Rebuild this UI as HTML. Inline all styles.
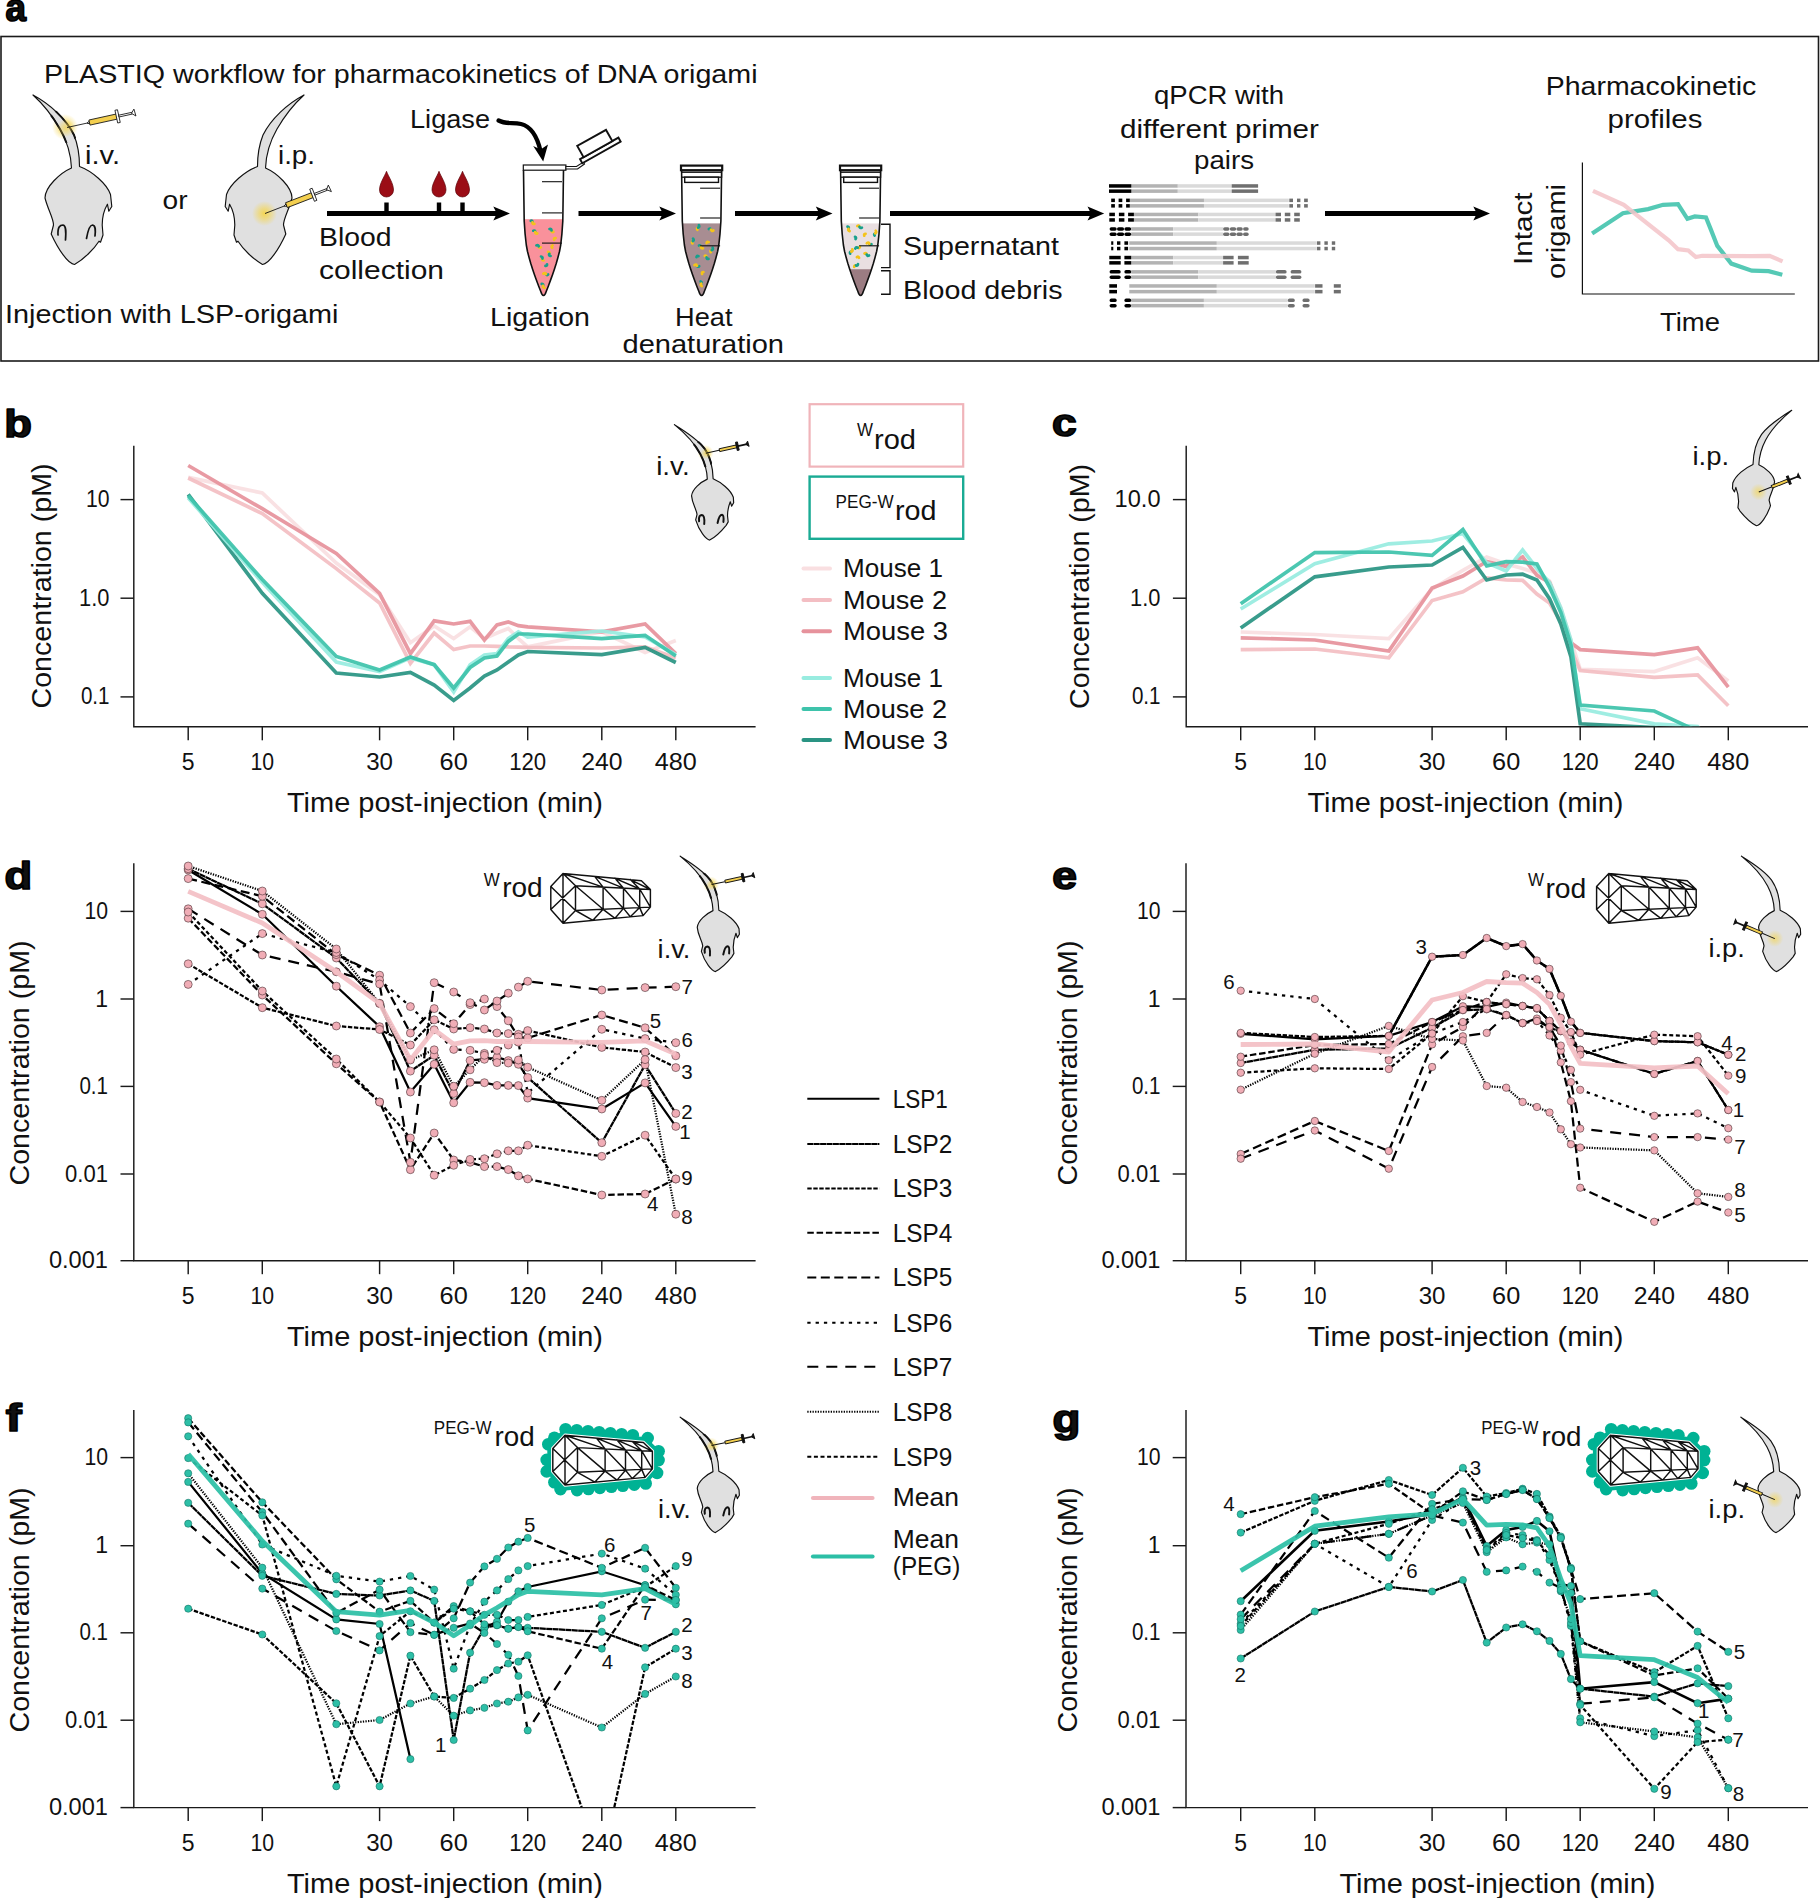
<!DOCTYPE html>
<html><head><meta charset="utf-8"><title>Figure</title>
<style>html,body{margin:0;padding:0;background:#fff}svg{display:block}text{font-family:"Liberation Sans",sans-serif;fill:#111}</style>
</head><body>
<svg width="1820" height="1898" viewBox="0 0 1820 1898">
<rect width="1820" height="1898" fill="#fff"/>
<defs>
<radialGradient id="glow"><stop offset="0" stop-color="#f5d54a" stop-opacity="0.95"/><stop offset="0.45" stop-color="#f5d54a" stop-opacity="0.55"/><stop offset="1" stop-color="#f5d54a" stop-opacity="0"/></radialGradient>
<path id="bigm" d="M130,100 C300,190 460,340 540,500 C580,600 595,720 595,815 C720,860 870,990 905,1095 L918,1215 L888,1262 L874,1192 C840,1250 822,1330 822,1400 L830,1500 L805,1572 L790,1562 C740,1640 640,1740 545,1795 C480,1790 380,1640 312,1490 L335,1400 C335,1330 280,1250 250,1130 C250,1020 400,880 515,830 C510,700 480,580 400,440 C330,320 230,190 130,100 Z"/>
<path id="smallm" d="M440,90 C620,200 800,330 880,440 C950,540 1000,700 1005,880 C1120,930 1260,1040 1300,1150 L1305,1230 L1275,1280 L1255,1215 C1230,1280 1215,1350 1215,1420 L1225,1510 L1195,1560 C1130,1640 1040,1730 955,1775 C900,1770 800,1640 750,1480 L770,1400 C760,1320 700,1250 690,1130 C700,1030 820,930 920,885 C915,760 888,650 822,525 C755,400 650,260 440,90 Z"/>
<clipPath id="cbig"><circle cx="440" cy="410" r="170"/></clipPath><clipPath id="csmall"><circle cx="850" cy="520" r="195"/></clipPath>
</defs>
<rect x="1" y="36.5" width="1817.5" height="324.5" fill="none" stroke="#1a1a1a" stroke-width="1.6"/>
<text transform="translate(5.4 21.3) scale(0.97 1)" font-size="38" font-weight="bold" stroke="#000" stroke-width="1.7" stroke-linejoin="round">a</text>
<text x="44.0" y="82.5" font-size="26.4" textLength="713.5" lengthAdjust="spacingAndGlyphs">PLASTIQ workflow for pharmacokinetics of DNA origami</text>
<circle cx="65" cy="127" r="13" fill="url(#glow)"/>
<g transform="translate(20.0 85.0) scale(0.10000)">
<use href="#bigm" fill="#e0e0e0" stroke="#111" stroke-width="11.5" stroke-linejoin="round"/>
<use href="#bigm" fill="none" stroke="#111" stroke-width="20.0" stroke-linejoin="round" clip-path="url(#cbig)"/>
<path d="M380,1500 C375,1420 400,1400 430,1400 C465,1405 460,1480 455,1550 M665,1535 C680,1450 700,1400 725,1400 C760,1405 755,1460 750,1510" fill="none" stroke="#111" stroke-width="17.0" stroke-linecap="round"/>
</g>
<circle cx="66" cy="128" r="9" fill="url(#glow)" opacity="0.8"/>
<g transform="translate(67.0 127.5) rotate(-12.4) scale(1.0)" stroke="#111" stroke-width="0.80">
<line x1="0" y1="0" x2="22" y2="0"/>
<path d="M20.5,0 L23,-1.3 L23,1.3 Z" fill="#fff"/>
<rect x="23" y="-2.6" width="28" height="5.2" fill="#f3cf4f"/>
<rect x="50.5" y="-6.5" width="2.6" height="13" fill="#fff"/>
<rect x="53.1" y="-0.9" width="13.5" height="1.8" fill="#fff"/>
<path d="M66,0 L69.3,-3.6 L69.8,3.6 Z" fill="#fff"/>
</g>
<g transform="translate(210.0 85.0) scale(0.10000) translate(1070 0) scale(-1 1)">
<use href="#bigm" fill="#e0e0e0" stroke="#111" stroke-width="11.5" stroke-linejoin="round"/>
</g>
<circle cx="264.5" cy="213.5" r="12.5" fill="url(#glow)"/>
<g transform="translate(265.0 213.5) rotate(-21.2) scale(1.0)" stroke="#111" stroke-width="0.80">
<line x1="0" y1="0" x2="22" y2="0"/>
<path d="M20.5,0 L23,-1.3 L23,1.3 Z" fill="#fff"/>
<rect x="23" y="-2.6" width="28" height="5.2" fill="#f3cf4f"/>
<rect x="50.5" y="-6.5" width="2.6" height="13" fill="#fff"/>
<rect x="53.1" y="-0.9" width="13.5" height="1.8" fill="#fff"/>
<path d="M66,0 L69.3,-3.6 L69.8,3.6 Z" fill="#fff"/>
</g>
<text x="85.0" y="164.0" font-size="26.4" textLength="35.0" lengthAdjust="spacingAndGlyphs">i.v.</text>
<text x="278.0" y="164.0" font-size="26.4" textLength="37.0" lengthAdjust="spacingAndGlyphs">i.p.</text>
<text x="162.5" y="209.0" font-size="26.4" textLength="25.0" lengthAdjust="spacingAndGlyphs">or</text>
<text x="5.0" y="322.5" font-size="26.4" textLength="333.5" lengthAdjust="spacingAndGlyphs">Injection with LSP-origami</text>
<line x1="327.0" y1="213.5" x2="500.0" y2="213.5" stroke="#000" stroke-width="5"/>
<path d="M510.0,213.5 L493.3,206.4 L496.8,213.5 L493.3,220.6 Z" fill="#000"/>
<rect x="384.3" y="202.5" width="4.4" height="10" fill="#000"/>
<path d="M386.5,171.3 C388.7,177 393.5,183.5 393.5,190 A7,7 0 0 1 379.5,190 C379.5,183.5 384.3,177 386.5,171.3 Z" fill="#9b0d16" stroke="#5d060b" stroke-width="0.7"/>
<rect x="436.8" y="202.5" width="4.4" height="10" fill="#000"/>
<path d="M439,171.3 C441.2,177 446,183.5 446,190 A7,7 0 0 1 432,190 C432,183.5 436.8,177 439,171.3 Z" fill="#9b0d16" stroke="#5d060b" stroke-width="0.7"/>
<rect x="460.3" y="202.5" width="4.4" height="10" fill="#000"/>
<path d="M462.5,171.3 C464.7,177 469.5,183.5 469.5,190 A7,7 0 0 1 455.5,190 C455.5,183.5 460.3,177 462.5,171.3 Z" fill="#9b0d16" stroke="#5d060b" stroke-width="0.7"/>
<text x="319.0" y="246.0" font-size="26.4" textLength="72.5" lengthAdjust="spacingAndGlyphs">Blood</text>
<text x="319.0" y="279.0" font-size="26.4" textLength="125.0" lengthAdjust="spacingAndGlyphs">collection</text>
<text x="410.0" y="127.5" font-size="26.4" textLength="80.0" lengthAdjust="spacingAndGlyphs">Ligase</text>
<path d="M498.6,120.5 C506,124.5 513,122 521,124 C533,127 538,140 540.5,151" fill="none" stroke="#000" stroke-width="4.3" stroke-linecap="round"/>
<path d="M543.2,161.5 L533.2,146 L540.6,149.6 L548,144.6 Z" fill="#000"/>
<clipPath id="tb1"><path d="M523.5,170 L523.9,200 L524.2,221 L525.1,234 L526.3,245 L527.5,251.5 L529.0,257.2 L530.7,263.2 L532.6,269.2 L534.3,274.2 L536.0,278.9 L538.7,286.2 L540.9,291.8 Q541.9,295.3 543.5,295.5 Q545.1,295.3 546.1,291.8 L548.3,286.2 L551.0,278.9 L552.7,274.2 L554.4,269.2 L556.3,263.2 L558.0,257.2 L559.5,251.5 L560.7,245 L561.9,234 L562.8,221 L563.1,200 L563.5,170 Z"/></clipPath>
<path d="M523.5,170 L523.9,200 L524.2,221 L525.1,234 L526.3,245 L527.5,251.5 L529.0,257.2 L530.7,263.2 L532.6,269.2 L534.3,274.2 L536.0,278.9 L538.7,286.2 L540.9,291.8 Q541.9,295.3 543.5,295.5 Q545.1,295.3 546.1,291.8 L548.3,286.2 L551.0,278.9 L552.7,274.2 L554.4,269.2 L556.3,263.2 L558.0,257.2 L559.5,251.5 L560.7,245 L561.9,234 L562.8,221 L563.1,200 L563.5,170 Z" fill="#fff"/>
<rect x="518.5" y="219.2" width="50" height="80" fill="#f9919b" clip-path="url(#tb1)"/>
<g clip-path="url(#tb1)" fill="none" stroke-width="2.7" stroke-linecap="round">
<path d="M543.6,260.5 q-2.0,-0.1 -1.3,-1.9" stroke="#f4c31b"/>
<path d="M542.4,258.6 q0.7,-1.8 -1.4,-2.1" stroke="#17a08d"/>
<path d="M548.1,274.5 q-1.5,1.3 -2.3,-0.5" stroke="#17a08d"/>
<path d="M545.9,274.1 q-0.8,-1.8 -2.5,-0.5" stroke="#f4c31b"/>
<path d="M554.2,239.8 q-0.6,-1.9 1.4,-1.8" stroke="#f4c31b"/>
<path d="M541.7,283.9 q2.0,-0.0 1.4,1.9" stroke="#17a08d"/>
<path d="M543.1,285.8 q-0.6,1.9 1.5,2.0" stroke="#f4c31b"/>
<path d="M540.8,247.4 q-1.7,1.0 -2.1,-0.9" stroke="#f4c31b"/>
<path d="M538.7,246.4 q-0.4,-1.9 -2.3,-1.0" stroke="#17a08d"/>
<path d="M547.0,264.3 q0.3,1.9 -1.6,1.6" stroke="#17a08d"/>
<path d="M553.4,231.9 q-1.9,0.6 -1.9,-1.4" stroke="#f4c31b"/>
<path d="M551.5,230.5 q0.0,-2.0 -2.0,-1.5" stroke="#17a08d"/>
<path d="M530.8,220.8 q1.9,-0.5 1.7,1.5" stroke="#17a08d"/>
<path d="M532.5,222.3 q-0.2,2.0 1.9,1.6" stroke="#f4c31b"/>
<path d="M552.2,247.7 q-1.4,-1.4 0.4,-2.3" stroke="#f4c31b"/>
<path d="M533.3,230.7 q1.9,-0.7 1.9,1.3" stroke="#17a08d"/>
<path d="M535.2,232.0 q0.0,2.0 2.1,1.4" stroke="#f4c31b"/>
<path d="M548.1,251.8 q2.0,0.2 1.2,2.0" stroke="#f4c31b"/>
<path d="M549.3,253.8 q-0.8,1.8 1.3,2.2" stroke="#17a08d"/>
</g>
<path d="M523.5,170 L523.9,200 L524.2,221 L525.1,234 L526.3,245 L527.5,251.5 L529.0,257.2 L530.7,263.2 L532.6,269.2 L534.3,274.2 L536.0,278.9 L538.7,286.2 L540.9,291.8 Q541.9,295.3 543.5,295.5 Q545.1,295.3 546.1,291.8 L548.3,286.2 L551.0,278.9 L552.7,274.2 L554.4,269.2 L556.3,263.2 L558.0,257.2 L559.5,251.5 L560.7,245 L561.9,234 L562.8,221 L563.1,200 L563.5,170" fill="none" stroke="#111" stroke-width="1.6" stroke-linejoin="round"/>
<line x1="542.0" y1="181.7" x2="562.0" y2="181.7" stroke="#111" stroke-width="1.1"/>
<line x1="542.0" y1="212.9" x2="562.0" y2="212.9" stroke="#111" stroke-width="1.1"/>
<line x1="542.0" y1="243.1" x2="562.0" y2="243.1" stroke="#111" stroke-width="1.1"/>
<rect x="523.3" y="165" width="42.6" height="5.2" fill="#fff" stroke="#111" stroke-width="1.2"/>
<path d="M565.9,166.5 L576.5,166.5 L583.5,162 L584.5,164 L577.5,169 L565.9,169 Z" fill="#fff" stroke="#111" stroke-width="1.1"/>
<g transform="translate(582.3 163.2) rotate(-29.3)" fill="#fff" stroke="#111" stroke-width="1.9"><rect x="0" y="-4.6" width="44" height="4.6"/><rect x="4" y="-17.5" width="33" height="13"/></g>
<text x="490.0" y="326.0" font-size="26.4" textLength="100.0" lengthAdjust="spacingAndGlyphs">Ligation</text>
<line x1="578.5" y1="213.5" x2="666.0" y2="213.5" stroke="#000" stroke-width="5"/>
<path d="M676.0,213.5 L659.3,206.4 L662.8,213.5 L659.3,220.6 Z" fill="#000"/>
<clipPath id="tb2"><path d="M681.6,170 L682.0,200 L682.3,221 L683.2,234 L684.4,245 L685.6,251.5 L687.1,257.2 L688.8,263.2 L690.7,269.2 L692.4,274.2 L694.1,278.9 L696.8,286.2 L699.0,291.8 Q700.0,295.3 701.6,295.5 Q703.2,295.3 704.2,291.8 L706.4,286.2 L709.1,278.9 L710.8,274.2 L712.5,269.2 L714.4,263.2 L716.1,257.2 L717.6,251.5 L718.8,245 L720.0,234 L720.9,221 L721.2,200 L721.6,170 Z"/></clipPath>
<path d="M681.6,170 L682.0,200 L682.3,221 L683.2,234 L684.4,245 L685.6,251.5 L687.1,257.2 L688.8,263.2 L690.7,269.2 L692.4,274.2 L694.1,278.9 L696.8,286.2 L699.0,291.8 Q700.0,295.3 701.6,295.5 Q703.2,295.3 704.2,291.8 L706.4,286.2 L709.1,278.9 L710.8,274.2 L712.5,269.2 L714.4,263.2 L716.1,257.2 L717.6,251.5 L718.8,245 L720.0,234 L720.9,221 L721.2,200 L721.6,170 Z" fill="#fff"/>
<rect x="676.6" y="223.4" width="50" height="80" fill="#a88d92" clip-path="url(#tb2)"/>
<g clip-path="url(#tb2)" fill="none" stroke-width="2.7" stroke-linecap="round">
<path d="M704.8,255.8 q1.9,-0.5 1.8,1.5" stroke="#f4c31b"/>
<path d="M706.6,257.3 q-0.1,2.0 1.9,1.6" stroke="#17a08d"/>
<path d="M700.6,281.4 q1.8,0.7 0.5,2.2" stroke="#17a08d"/>
<path d="M701.2,283.6 q-1.3,1.5 0.6,2.5" stroke="#f4c31b"/>
<path d="M702.1,273.9 q-0.7,-1.8 1.3,-1.9" stroke="#f4c31b"/>
<path d="M699.2,266.2 q-1.5,1.3 -2.2,-0.5" stroke="#17a08d"/>
<path d="M697.0,265.7 q-0.8,-1.8 -2.5,-0.6" stroke="#f4c31b"/>
<path d="M697.4,229.8 q-1.1,-1.6 0.8,-2.2" stroke="#f4c31b"/>
<path d="M698.1,227.6 q1.9,-0.5 0.8,-2.4" stroke="#17a08d"/>
<path d="M696.5,257.2 q0.2,-2.0 2.0,-1.1" stroke="#17a08d"/>
<path d="M710.8,252.2 q-1.1,-1.7 0.9,-2.1" stroke="#f4c31b"/>
<path d="M711.7,250.1 q1.9,-0.5 0.9,-2.4" stroke="#17a08d"/>
<path d="M708.8,229.0 q1.6,-1.2 2.2,0.7" stroke="#17a08d"/>
<path d="M711.0,229.7 q0.6,1.9 2.4,0.8" stroke="#f4c31b"/>
<path d="M706.6,243.1 q0.3,-2.0 2.1,-1.0" stroke="#f4c31b"/>
<path d="M699.0,245.6 q1.8,-0.7 1.9,1.3" stroke="#17a08d"/>
<path d="M700.9,246.9 q0.1,2.0 2.1,1.4" stroke="#f4c31b"/>
<path d="M692.5,243.4 q-1.4,-1.3 0.3,-2.3" stroke="#f4c31b"/>
<path d="M692.8,241.1 q1.7,-0.9 0.3,-2.5" stroke="#17a08d"/>
</g>
<path d="M681.6,170 L682.0,200 L682.3,221 L683.2,234 L684.4,245 L685.6,251.5 L687.1,257.2 L688.8,263.2 L690.7,269.2 L692.4,274.2 L694.1,278.9 L696.8,286.2 L699.0,291.8 Q700.0,295.3 701.6,295.5 Q703.2,295.3 704.2,291.8 L706.4,286.2 L709.1,278.9 L710.8,274.2 L712.5,269.2 L714.4,263.2 L716.1,257.2 L717.6,251.5 L718.8,245 L720.0,234 L720.9,221 L721.2,200 L721.6,170" fill="none" stroke="#111" stroke-width="1.6" stroke-linejoin="round"/>
<line x1="700.1" y1="188.2" x2="720.1" y2="188.2" stroke="#111" stroke-width="1.1"/>
<line x1="700.1" y1="218" x2="720.1" y2="218" stroke="#111" stroke-width="1.1"/>
<line x1="700.1" y1="245.8" x2="720.1" y2="245.8" stroke="#111" stroke-width="1.1"/>
<rect x="681.0" y="165.6" width="41.2" height="4.6" fill="#fff" stroke="#111" stroke-width="2.2"/>
<rect x="681.7" y="172.2" width="39.8" height="5" fill="#fff" stroke="#111" stroke-width="1.4"/>
<rect x="684.7" y="177.2" width="33.8" height="5.2" fill="#fff" stroke="#111" stroke-width="1.4"/>
<text x="675.0" y="326.0" font-size="26.4" textLength="57.5" lengthAdjust="spacingAndGlyphs">Heat</text>
<text x="622.5" y="352.5" font-size="26.4" textLength="161.5" lengthAdjust="spacingAndGlyphs">denaturation</text>
<line x1="735.0" y1="213.5" x2="822.5" y2="213.5" stroke="#000" stroke-width="5"/>
<path d="M832.5,213.5 L815.8,206.4 L819.3,213.5 L815.8,220.6 Z" fill="#000"/>
<clipPath id="tb3"><path d="M840.6,170 L841.0,200 L841.3,221 L842.2,234 L843.4,245 L844.6,251.5 L846.1,257.2 L847.8,263.2 L849.7,269.2 L851.4,274.2 L853.1,278.9 L855.8,286.2 L858.0,291.8 Q859.0,295.3 860.6,295.5 Q862.2,295.3 863.2,291.8 L865.4,286.2 L868.1,278.9 L869.8,274.2 L871.5,269.2 L873.4,263.2 L875.1,257.2 L876.6,251.5 L877.8,245 L879.0,234 L879.9,221 L880.2,200 L880.6,170 Z"/></clipPath>
<path d="M840.6,170 L841.0,200 L841.3,221 L842.2,234 L843.4,245 L844.6,251.5 L846.1,257.2 L847.8,263.2 L849.7,269.2 L851.4,274.2 L853.1,278.9 L855.8,286.2 L858.0,291.8 Q859.0,295.3 860.6,295.5 Q862.2,295.3 863.2,291.8 L865.4,286.2 L868.1,278.9 L869.8,274.2 L871.5,269.2 L873.4,263.2 L875.1,257.2 L876.6,251.5 L877.8,245 L879.0,234 L879.9,221 L880.2,200 L880.6,170 Z" fill="#fff"/>
<rect x="835.6" y="223.4" width="50" height="46" fill="#e9dfe1" clip-path="url(#tb3)"/>
<rect x="835.6" y="269.2" width="50" height="40" fill="#9b7c82" clip-path="url(#tb3)"/>
<g clip-path="url(#tb3)" fill="none" stroke-width="2.7" stroke-linecap="round">
<path d="M864.6,253.5 q1.7,-1.0 2.1,1.0" stroke="#f4c31b"/>
<path d="M866.7,254.5 q0.4,1.9 2.3,1.0" stroke="#17a08d"/>
<path d="M874.7,235.6 q-1.3,-1.5 0.5,-2.2" stroke="#17a08d"/>
<path d="M875.2,233.3 q1.8,-0.8 0.5,-2.5" stroke="#f4c31b"/>
<path d="M864.3,235.7 q-0.7,-1.9 1.3,-1.9" stroke="#f4c31b"/>
<path d="M871.5,244.1 q-1.4,1.4 -2.3,-0.4" stroke="#17a08d"/>
<path d="M869.3,243.7 q-0.8,-1.8 -2.5,-0.5" stroke="#f4c31b"/>
<path d="M854.2,266.9 q-0.0,-2.0 1.9,-1.4" stroke="#f4c31b"/>
<path d="M856.0,265.5 q1.9,0.6 2.0,-1.5" stroke="#17a08d"/>
<path d="M855.0,236.8 q1.8,0.7 0.5,2.2" stroke="#17a08d"/>
<path d="M859.9,246.9 q-0.5,1.9 -2.2,0.8" stroke="#f4c31b"/>
<path d="M857.7,247.7 q-1.6,-1.1 -2.4,0.8" stroke="#17a08d"/>
<path d="M847.5,226.7 q2.0,0.3 1.0,2.1" stroke="#17a08d"/>
<path d="M848.5,228.8 q-0.9,1.8 1.1,2.3" stroke="#f4c31b"/>
<path d="M856.9,257.1 q1.6,-1.2 2.2,0.7" stroke="#f4c31b"/>
<path d="M850.2,253.7 q-0.9,-1.8 1.0,-2.1" stroke="#17a08d"/>
<path d="M851.2,251.6 q2.0,-0.3 1.1,-2.3" stroke="#f4c31b"/>
<path d="M857.3,226.0 q1.6,-1.2 2.2,0.7" stroke="#f4c31b"/>
<path d="M859.5,226.8 q0.6,1.9 2.4,0.8" stroke="#17a08d"/>
</g>
<path d="M840.6,170 L841.0,200 L841.3,221 L842.2,234 L843.4,245 L844.6,251.5 L846.1,257.2 L847.8,263.2 L849.7,269.2 L851.4,274.2 L853.1,278.9 L855.8,286.2 L858.0,291.8 Q859.0,295.3 860.6,295.5 Q862.2,295.3 863.2,291.8 L865.4,286.2 L868.1,278.9 L869.8,274.2 L871.5,269.2 L873.4,263.2 L875.1,257.2 L876.6,251.5 L877.8,245 L879.0,234 L879.9,221 L880.2,200 L880.6,170" fill="none" stroke="#111" stroke-width="1.6" stroke-linejoin="round"/>
<line x1="859.1" y1="188.2" x2="879.1" y2="188.2" stroke="#111" stroke-width="1.1"/>
<line x1="859.1" y1="218" x2="879.1" y2="218" stroke="#111" stroke-width="1.1"/>
<line x1="859.1" y1="245.8" x2="879.1" y2="245.8" stroke="#111" stroke-width="1.1"/>
<rect x="840.0" y="165.6" width="41.2" height="4.6" fill="#fff" stroke="#111" stroke-width="2.2"/>
<rect x="840.7" y="172.2" width="39.8" height="5" fill="#fff" stroke="#111" stroke-width="1.4"/>
<rect x="843.7" y="177.2" width="33.8" height="5.2" fill="#fff" stroke="#111" stroke-width="1.4"/>
<path d="M881,224.3 H890 V267.6 H881 M881,270.8 H890 V294.3 H881" fill="none" stroke="#111" stroke-width="1.4"/>
<text x="903.0" y="255.0" font-size="26.4" textLength="156.0" lengthAdjust="spacingAndGlyphs">Supernatant</text>
<text x="903.0" y="299.0" font-size="26.4" textLength="159.5" lengthAdjust="spacingAndGlyphs">Blood debris</text>
<line x1="890.0" y1="213.5" x2="1094.2" y2="213.5" stroke="#000" stroke-width="5"/>
<path d="M1104.2,213.5 L1087.5,206.4 L1091.0,213.5 L1087.5,220.6 Z" fill="#000"/>
<text x="1219.0" y="104.0" font-size="26.4" text-anchor="middle" textLength="130.0" lengthAdjust="spacingAndGlyphs">qPCR with</text>
<text x="1219.5" y="137.5" font-size="26.4" text-anchor="middle" textLength="199.0" lengthAdjust="spacingAndGlyphs">different primer</text>
<text x="1224.0" y="168.5" font-size="26.4" text-anchor="middle" textLength="60.0" lengthAdjust="spacingAndGlyphs">pairs</text>
<rect x="1131.2" y="184.2" width="46.6" height="3.5" fill="#b3b3b3"/>
<rect x="1177.8" y="184.2" width="53.9" height="3.5" fill="#dadada"/>
<rect x="1109.0" y="184.2" width="22.3" height="3.5" rx="0" fill="#000"/>
<rect x="1231.7" y="184.2" width="26.4" height="3.5" rx="0" fill="#6f6f6f"/>
<rect x="1131.2" y="189.4" width="46.6" height="3.5" fill="#b3b3b3"/>
<rect x="1177.8" y="189.4" width="53.9" height="3.5" fill="#dadada"/>
<rect x="1109.0" y="189.4" width="22.3" height="3.5" rx="0" fill="#000"/>
<rect x="1231.7" y="189.4" width="26.4" height="3.5" rx="0" fill="#6f6f6f"/>
<rect x="1129.8" y="198.6" width="74.2" height="3.5" fill="#b3b3b3"/>
<rect x="1203.9" y="198.6" width="84.9" height="3.5" fill="#dadada"/>
<rect x="1111.2" y="198.6" width="3.7" height="3.5" rx="0" fill="#000"/>
<rect x="1118.6" y="198.6" width="3.7" height="3.5" rx="0" fill="#000"/>
<rect x="1126.1" y="198.6" width="3.7" height="3.5" rx="0" fill="#000"/>
<rect x="1289.3" y="198.6" width="3.7" height="3.5" rx="0" fill="#6f6f6f"/>
<rect x="1297.0" y="198.6" width="3.4" height="3.5" rx="0" fill="#6f6f6f"/>
<rect x="1304.1" y="198.6" width="3.7" height="3.5" rx="0" fill="#6f6f6f"/>
<rect x="1129.8" y="204.1" width="74.2" height="3.5" fill="#b3b3b3"/>
<rect x="1203.9" y="204.1" width="84.9" height="3.5" fill="#dadada"/>
<rect x="1111.2" y="204.1" width="3.7" height="3.5" rx="0" fill="#000"/>
<rect x="1118.6" y="204.1" width="3.7" height="3.5" rx="0" fill="#000"/>
<rect x="1126.1" y="204.1" width="3.7" height="3.5" rx="0" fill="#000"/>
<rect x="1289.3" y="204.1" width="3.7" height="3.5" rx="0" fill="#6f6f6f"/>
<rect x="1297.0" y="204.1" width="3.4" height="3.5" rx="0" fill="#6f6f6f"/>
<rect x="1304.1" y="204.1" width="3.7" height="3.5" rx="0" fill="#6f6f6f"/>
<rect x="1133.9" y="212.7" width="64.4" height="3.5" fill="#b3b3b3"/>
<rect x="1198.3" y="212.7" width="76.9" height="3.5" fill="#dadada"/>
<rect x="1109.3" y="212.7" width="5.6" height="3.5" rx="0" fill="#000"/>
<rect x="1118.9" y="212.7" width="5.5" height="3.5" rx="0" fill="#000"/>
<rect x="1128.1" y="212.7" width="5.8" height="3.5" rx="0" fill="#000"/>
<rect x="1275.5" y="212.7" width="5.5" height="3.5" rx="0" fill="#6f6f6f"/>
<rect x="1284.8" y="212.7" width="5.5" height="3.5" rx="0" fill="#6f6f6f"/>
<rect x="1294.2" y="212.7" width="5.6" height="3.5" rx="0" fill="#6f6f6f"/>
<rect x="1133.9" y="218.2" width="64.4" height="3.5" fill="#b3b3b3"/>
<rect x="1198.3" y="218.2" width="76.9" height="3.5" fill="#dadada"/>
<rect x="1109.3" y="218.2" width="5.6" height="3.5" rx="0" fill="#000"/>
<rect x="1118.9" y="218.2" width="5.5" height="3.5" rx="0" fill="#000"/>
<rect x="1128.1" y="218.2" width="5.8" height="3.5" rx="0" fill="#000"/>
<rect x="1275.5" y="218.2" width="5.5" height="3.5" rx="0" fill="#6f6f6f"/>
<rect x="1284.8" y="218.2" width="5.5" height="3.5" rx="0" fill="#6f6f6f"/>
<rect x="1294.2" y="218.2" width="5.6" height="3.5" rx="0" fill="#6f6f6f"/>
<rect x="1131.2" y="227.2" width="42.1" height="3.5" fill="#b3b3b3"/>
<rect x="1173.4" y="227.2" width="49.7" height="3.5" fill="#dadada"/>
<rect x="1109.6" y="227.2" width="7.1" height="3.5" rx="1.7" fill="#000"/>
<rect x="1117.0" y="227.2" width="7.1" height="3.5" rx="1.7" fill="#000"/>
<rect x="1124.4" y="227.2" width="6.8" height="3.5" rx="1.7" fill="#000"/>
<rect x="1223.1" y="227.2" width="6.4" height="3.5" rx="1.7" fill="#6f6f6f"/>
<rect x="1229.8" y="227.2" width="6.4" height="3.5" rx="1.7" fill="#6f6f6f"/>
<rect x="1236.4" y="227.2" width="6.4" height="3.5" rx="1.7" fill="#6f6f6f"/>
<rect x="1243.1" y="227.2" width="5.6" height="3.5" rx="1.7" fill="#6f6f6f"/>
<rect x="1131.2" y="232.4" width="42.1" height="3.5" fill="#b3b3b3"/>
<rect x="1173.4" y="232.4" width="49.7" height="3.5" fill="#dadada"/>
<rect x="1109.6" y="232.4" width="7.1" height="3.5" rx="1.7" fill="#000"/>
<rect x="1117.0" y="232.4" width="7.1" height="3.5" rx="1.7" fill="#000"/>
<rect x="1124.4" y="232.4" width="6.8" height="3.5" rx="1.7" fill="#000"/>
<rect x="1223.1" y="232.4" width="6.4" height="3.5" rx="1.7" fill="#6f6f6f"/>
<rect x="1229.8" y="232.4" width="6.4" height="3.5" rx="1.7" fill="#6f6f6f"/>
<rect x="1236.4" y="232.4" width="6.4" height="3.5" rx="1.7" fill="#6f6f6f"/>
<rect x="1243.1" y="232.4" width="5.6" height="3.5" rx="1.7" fill="#6f6f6f"/>
<rect x="1129.3" y="241.3" width="87.5" height="3.5" fill="#b3b3b3"/>
<rect x="1216.9" y="241.3" width="99.9" height="3.5" fill="#dadada"/>
<rect x="1111.2" y="241.3" width="2.1" height="3.5" rx="0" fill="#000"/>
<rect x="1117.0" y="241.3" width="3.4" height="3.5" rx="0" fill="#000"/>
<rect x="1124.4" y="241.3" width="3.7" height="3.5" rx="0" fill="#000"/>
<rect x="1317.0" y="241.3" width="3.4" height="3.5" rx="0" fill="#6f6f6f"/>
<rect x="1324.4" y="241.3" width="3.4" height="3.5" rx="0" fill="#6f6f6f"/>
<rect x="1331.8" y="241.3" width="3.4" height="3.5" rx="0" fill="#6f6f6f"/>
<rect x="1129.3" y="246.8" width="87.5" height="3.5" fill="#b3b3b3"/>
<rect x="1216.9" y="246.8" width="99.9" height="3.5" fill="#dadada"/>
<rect x="1111.2" y="246.8" width="2.1" height="3.5" rx="0" fill="#000"/>
<rect x="1117.0" y="246.8" width="3.4" height="3.5" rx="0" fill="#000"/>
<rect x="1124.4" y="246.8" width="3.7" height="3.5" rx="0" fill="#000"/>
<rect x="1317.0" y="246.8" width="3.4" height="3.5" rx="0" fill="#6f6f6f"/>
<rect x="1324.4" y="246.8" width="3.4" height="3.5" rx="0" fill="#6f6f6f"/>
<rect x="1331.8" y="246.8" width="3.4" height="3.5" rx="0" fill="#6f6f6f"/>
<rect x="1131.2" y="255.8" width="42.1" height="3.5" fill="#b3b3b3"/>
<rect x="1173.4" y="255.8" width="49.7" height="3.5" fill="#dadada"/>
<rect x="1109.3" y="255.8" width="11.4" height="3.5" rx="0" fill="#000"/>
<rect x="1124.4" y="255.8" width="6.8" height="3.5" rx="0" fill="#000"/>
<rect x="1223.1" y="255.8" width="10.5" height="3.5" rx="0" fill="#6f6f6f"/>
<rect x="1237.9" y="255.8" width="10.8" height="3.5" rx="0" fill="#6f6f6f"/>
<rect x="1131.2" y="261.1" width="42.1" height="3.5" fill="#b3b3b3"/>
<rect x="1173.4" y="261.1" width="49.7" height="3.5" fill="#dadada"/>
<rect x="1109.3" y="261.1" width="11.4" height="3.5" rx="0" fill="#000"/>
<rect x="1124.4" y="261.1" width="6.8" height="3.5" rx="0" fill="#000"/>
<rect x="1223.1" y="261.1" width="10.5" height="3.5" rx="0" fill="#6f6f6f"/>
<rect x="1237.9" y="261.1" width="10.8" height="3.5" rx="0" fill="#6f6f6f"/>
<rect x="1131.2" y="270.1" width="67.1" height="3.5" fill="#b3b3b3"/>
<rect x="1198.3" y="270.1" width="77.6" height="3.5" fill="#dadada"/>
<rect x="1109.6" y="270.1" width="11.1" height="3.5" rx="1.7" fill="#000"/>
<rect x="1124.4" y="270.1" width="6.8" height="3.5" rx="1.7" fill="#000"/>
<rect x="1275.9" y="270.1" width="10.7" height="3.5" rx="1.7" fill="#6f6f6f"/>
<rect x="1290.6" y="270.1" width="10.8" height="3.5" rx="1.7" fill="#6f6f6f"/>
<rect x="1131.2" y="275.4" width="67.1" height="3.5" fill="#b3b3b3"/>
<rect x="1198.3" y="275.4" width="77.6" height="3.5" fill="#dadada"/>
<rect x="1109.6" y="275.4" width="11.1" height="3.5" rx="1.7" fill="#000"/>
<rect x="1124.4" y="275.4" width="6.8" height="3.5" rx="1.7" fill="#000"/>
<rect x="1275.9" y="275.4" width="10.7" height="3.5" rx="1.7" fill="#6f6f6f"/>
<rect x="1290.6" y="275.4" width="10.8" height="3.5" rx="1.7" fill="#6f6f6f"/>
<rect x="1129.3" y="284.2" width="87.5" height="3.5" fill="#b3b3b3"/>
<rect x="1216.9" y="284.2" width="97.9" height="3.5" fill="#dadada"/>
<rect x="1109.3" y="284.2" width="7.7" height="3.5" rx="0" fill="#000"/>
<rect x="1315.1" y="284.2" width="7.4" height="3.5" rx="0" fill="#6f6f6f"/>
<rect x="1333.8" y="284.2" width="7.0" height="3.5" rx="0" fill="#6f6f6f"/>
<rect x="1129.3" y="289.9" width="87.5" height="3.5" fill="#b3b3b3"/>
<rect x="1216.9" y="289.9" width="97.9" height="3.5" fill="#dadada"/>
<rect x="1109.3" y="289.9" width="7.7" height="3.5" rx="0" fill="#000"/>
<rect x="1315.1" y="289.9" width="7.4" height="3.5" rx="0" fill="#6f6f6f"/>
<rect x="1333.8" y="289.9" width="7.0" height="3.5" rx="0" fill="#6f6f6f"/>
<rect x="1131.2" y="298.6" width="72.7" height="3.5" fill="#b3b3b3"/>
<rect x="1203.9" y="298.6" width="83.8" height="3.5" fill="#dadada"/>
<rect x="1109.6" y="298.6" width="7.1" height="3.5" rx="1.7" fill="#000"/>
<rect x="1124.4" y="298.6" width="6.8" height="3.5" rx="1.7" fill="#000"/>
<rect x="1287.8" y="298.6" width="7.0" height="3.5" rx="1.7" fill="#6f6f6f"/>
<rect x="1302.5" y="298.6" width="7.1" height="3.5" rx="1.7" fill="#6f6f6f"/>
<rect x="1131.2" y="303.9" width="72.7" height="3.5" fill="#b3b3b3"/>
<rect x="1203.9" y="303.9" width="83.8" height="3.5" fill="#dadada"/>
<rect x="1109.6" y="303.9" width="7.1" height="3.5" rx="1.7" fill="#000"/>
<rect x="1124.4" y="303.9" width="6.8" height="3.5" rx="1.7" fill="#000"/>
<rect x="1287.8" y="303.9" width="7.0" height="3.5" rx="1.7" fill="#6f6f6f"/>
<rect x="1302.5" y="303.9" width="7.1" height="3.5" rx="1.7" fill="#6f6f6f"/>
<line x1="1325.0" y1="213.5" x2="1480.0" y2="213.5" stroke="#000" stroke-width="5"/>
<path d="M1490.0,213.5 L1473.3,206.4 L1476.8,213.5 L1473.3,220.6 Z" fill="#000"/>
<text x="1651.0" y="95.0" font-size="26.4" text-anchor="middle" textLength="210.5" lengthAdjust="spacingAndGlyphs">Pharmacokinetic</text>
<text x="1655.0" y="127.5" font-size="26.4" text-anchor="middle" textLength="95.0" lengthAdjust="spacingAndGlyphs">profiles</text>
<path d="M1582.4,162.4 V294 H1794.8" fill="none" stroke="#111" stroke-width="1.2"/>
<polyline points="1592.1,233.4 1622.9,213.2 1648.1,209.1 1663.1,204.8 1678.0,204.2 1687.4,218.8 1694.8,216.5 1706.0,217.5 1710.7,229.1 1717.3,245.9 1731.3,263.6 1751.8,270.7 1768.6,271.1 1782.3,274.8" fill="none" stroke="#55c9b5" stroke-width="4.2" stroke-linejoin="miter" stroke-linecap="butt"/>
<polyline points="1593.0,190.8 1623.8,204.8 1668.7,240.3 1678.0,249.2 1688.3,250.5 1695.8,257.1 1702.3,255.8 1750.9,256.2 1769.6,255.8 1782.6,261.4" fill="none" stroke="#f3c3c8" stroke-width="4.2" stroke-linejoin="miter" stroke-linecap="butt" opacity="0.85"/>
<text x="1690.0" y="331.0" font-size="26.4" text-anchor="middle" textLength="60.0" lengthAdjust="spacingAndGlyphs">Time</text>
<text x="1532.5" y="228.7" font-size="26.4" text-anchor="middle" textLength="72.5" lengthAdjust="spacingAndGlyphs" transform="rotate(-90 1532.5 228.7)">Intact</text>
<text x="1565.0" y="231.5" font-size="26.4" text-anchor="middle" textLength="95.0" lengthAdjust="spacingAndGlyphs" transform="rotate(-90 1565.0 231.5)">origami</text>
<text transform="translate(4.2 436.8) scale(1.19 1)" font-size="38" font-weight="bold" stroke="#000" stroke-width="1.7" stroke-linejoin="round">b</text>
<path d="M133.8,445.8 V726.8 H755.6" fill="none" stroke="#1a1a1a" stroke-width="1.45"/>
<line x1="120.5" y1="499.6" x2="133.8" y2="499.6" stroke="#1a1a1a" stroke-width="1.45"/>
<text x="109.5" y="507.1" font-size="23" text-anchor="end" textLength="23.6" lengthAdjust="spacingAndGlyphs">10</text>
<line x1="120.5" y1="598.2" x2="133.8" y2="598.2" stroke="#1a1a1a" stroke-width="1.45"/>
<text x="109.5" y="605.7" font-size="23" text-anchor="end" textLength="30.4" lengthAdjust="spacingAndGlyphs">1.0</text>
<line x1="120.5" y1="696.9" x2="133.8" y2="696.9" stroke="#1a1a1a" stroke-width="1.45"/>
<text x="109.5" y="704.4" font-size="23" text-anchor="end" textLength="28.6" lengthAdjust="spacingAndGlyphs">0.1</text>
<line x1="188.2" y1="726.8" x2="188.2" y2="740.3" stroke="#1a1a1a" stroke-width="1.45"/>
<text x="188.2" y="770.1" font-size="23" text-anchor="middle">5</text>
<line x1="262.3" y1="726.8" x2="262.3" y2="740.3" stroke="#1a1a1a" stroke-width="1.45"/>
<text x="262.3" y="770.1" font-size="23" text-anchor="middle" textLength="23.6" lengthAdjust="spacingAndGlyphs">10</text>
<line x1="379.6" y1="726.8" x2="379.6" y2="740.3" stroke="#1a1a1a" stroke-width="1.45"/>
<text x="379.6" y="770.1" font-size="23" text-anchor="middle" textLength="26.8" lengthAdjust="spacingAndGlyphs">30</text>
<line x1="453.7" y1="726.8" x2="453.7" y2="740.3" stroke="#1a1a1a" stroke-width="1.45"/>
<text x="453.7" y="770.1" font-size="23" text-anchor="middle" textLength="28.2" lengthAdjust="spacingAndGlyphs">60</text>
<line x1="527.7" y1="726.8" x2="527.7" y2="740.3" stroke="#1a1a1a" stroke-width="1.45"/>
<text x="527.7" y="770.1" font-size="23" text-anchor="middle" textLength="37.0" lengthAdjust="spacingAndGlyphs">120</text>
<line x1="601.8" y1="726.8" x2="601.8" y2="740.3" stroke="#1a1a1a" stroke-width="1.45"/>
<text x="601.8" y="770.1" font-size="23" text-anchor="middle" textLength="41.3" lengthAdjust="spacingAndGlyphs">240</text>
<line x1="675.8" y1="726.8" x2="675.8" y2="740.3" stroke="#1a1a1a" stroke-width="1.45"/>
<text x="675.8" y="770.1" font-size="23" text-anchor="middle" textLength="42.0" lengthAdjust="spacingAndGlyphs">480</text>
<clipPath id="cb"><rect x="133.8" y="435.8" width="621.8" height="290.3999999999999"/></clipPath>
<text x="445.0" y="812.1" font-size="27.8" text-anchor="middle" textLength="316.0" lengthAdjust="spacingAndGlyphs">Time post-injection (min)</text>
<text x="51.1" y="586.0" font-size="28.4" text-anchor="middle" textLength="245.0" lengthAdjust="spacingAndGlyphs" transform="rotate(-90 51.1 586.0)">Concentration (pM)</text>
<polyline points="188.2,477.4 262.3,493.0 336.3,563.0 379.6,594.7 410.4,642.7 434.2,626.0 453.7,638.6 470.1,626.8 484.4,638.6 497.0,633.0 508.3,628.5 518.4,638.6 527.7,646.9 601.8,631.8 645.1,652.4 675.8,640.5" fill="none" stroke="#f9dfe1" stroke-width="3.7" stroke-linejoin="miter" stroke-linecap="butt" opacity="0.93"/>
<polyline points="188.2,478.0 262.3,513.6 336.3,568.6 379.6,603.0 410.4,663.4 434.2,633.0 453.7,649.6 470.1,646.0 484.4,646.0 497.0,646.3 508.3,646.9 518.4,647.1 527.7,647.4 601.8,648.0 645.1,646.9 675.8,657.9" fill="none" stroke="#f3bec3" stroke-width="3.7" stroke-linejoin="miter" stroke-linecap="butt" opacity="0.93"/>
<polyline points="188.2,465.5 262.3,508.7 336.3,553.5 379.6,593.3 410.4,653.7 434.2,620.8 453.7,624.0 470.1,621.3 484.4,640.0 497.0,624.9 508.3,622.0 518.4,625.7 527.7,626.8 601.8,631.8 645.1,624.0 675.8,653.7" fill="none" stroke="#e6929c" stroke-width="3.7" stroke-linejoin="miter" stroke-linecap="butt" opacity="0.93"/>
<polyline points="188.2,494.4 262.3,593.3 336.3,673.0 379.6,677.0 410.4,672.4 434.2,685.0 453.7,700.4 470.1,688.0 484.4,676.0 497.0,670.0 508.3,662.0 518.4,655.0 527.7,651.5 601.8,654.6 645.1,647.4 675.8,662.5" fill="none" stroke="#2a9483" stroke-width="3.7" stroke-linejoin="miter" stroke-linecap="butt" opacity="0.93"/>
<polyline points="188.2,497.7 262.3,582.3 336.3,662.0 379.6,671.6 410.4,657.9 434.2,664.7 453.7,692.0 470.1,664.7 484.4,655.0 497.0,653.7 508.3,638.6 518.4,631.8 527.7,637.0 601.8,631.0 645.1,637.0 675.8,654.6" fill="none" stroke="#98ece0" stroke-width="3.7" stroke-linejoin="miter" stroke-linecap="butt" opacity="0.93"/>
<polyline points="188.2,495.8 262.3,579.6 336.3,656.5 379.6,670.0 410.4,657.0 434.2,664.7 453.7,688.0 470.1,667.5 484.4,657.9 497.0,656.0 508.3,641.4 518.4,634.0 527.7,634.0 601.8,638.6 645.1,635.3 675.8,656.0" fill="none" stroke="#3ec3ab" stroke-width="3.7" stroke-linejoin="miter" stroke-linecap="butt" opacity="0.93"/>
<circle cx="705.5" cy="453" r="8" fill="url(#glow)"/>
<g transform="translate(644.3 418.5) scale(0.06849)">
<use href="#smallm" fill="#e0e0e0" stroke="#111" stroke-width="16.8" stroke-linejoin="round"/>
<use href="#smallm" fill="none" stroke="#111" stroke-width="29.2" stroke-linejoin="round" clip-path="url(#csmall)"/>
<path d="M800,1500 C790,1430 815,1410 840,1410 C880,1415 880,1480 875,1540 M1070,1525 C1085,1450 1105,1405 1135,1405 C1165,1410 1160,1460 1155,1510" fill="none" stroke="#111" stroke-width="29.2" stroke-linecap="round"/>
</g>
<circle cx="706" cy="453.5" r="5.5" fill="url(#glow)" opacity="0.8"/>
<g transform="translate(705.8 453.2) rotate(-12.5) scale(0.62)" stroke="#111" stroke-width="1.45">
<line x1="0" y1="0" x2="22" y2="0" stroke-width="1.61"/>
<rect x="22.5" y="-2.3" width="28" height="4.6" fill="#f3cf4f"/>
<rect x="50.5" y="-6.8" width="3.2" height="13.6" fill="#111"/>
<line x1="53" y1="0" x2="68" y2="0" stroke-width="2.74"/>
<path d="M66.5,-0.5 L70,-4.4 L70.6,4.4 L66.5,0.5 Z" fill="#111"/>
</g>
<text x="656.2" y="474.6" font-size="25.5" textLength="33.5" lengthAdjust="spacingAndGlyphs">i.v.</text>
<rect x="809.6" y="404.2" width="153.6" height="62.4" fill="none" stroke="#f0b4ba" stroke-width="2.2"/>
<rect x="809.6" y="476.6" width="153.6" height="62.2" fill="none" stroke="#1aab94" stroke-width="2.4"/>
<text x="857.0" y="435.6" font-size="17.5" textLength="16.0" lengthAdjust="spacingAndGlyphs">W</text>
<text x="874.0" y="448.6" font-size="27" textLength="42.0" lengthAdjust="spacingAndGlyphs">rod</text>
<text x="835.6" y="508.4" font-size="17.5" textLength="58.0" lengthAdjust="spacingAndGlyphs">PEG-W</text>
<text x="895.0" y="520.0" font-size="27" textLength="41.5" lengthAdjust="spacingAndGlyphs">rod</text>
<line x1="803.5" y1="568.6" x2="830" y2="568.6" stroke="#f9dfe1" stroke-width="4" stroke-linecap="round"/>
<text x="843.0" y="577.2" font-size="26.3" textLength="100.0" lengthAdjust="spacingAndGlyphs">Mouse 1</text>
<line x1="803.5" y1="600" x2="830" y2="600" stroke="#f3bec3" stroke-width="4" stroke-linecap="round"/>
<text x="843.0" y="608.6" font-size="26.3" textLength="104.0" lengthAdjust="spacingAndGlyphs">Mouse 2</text>
<line x1="803.5" y1="631.2" x2="830" y2="631.2" stroke="#e6929c" stroke-width="4" stroke-linecap="round"/>
<text x="843.0" y="639.8" font-size="26.3" textLength="105.0" lengthAdjust="spacingAndGlyphs">Mouse 3</text>
<line x1="803.5" y1="678" x2="830" y2="678" stroke="#98ece0" stroke-width="4" stroke-linecap="round"/>
<text x="843.0" y="686.6" font-size="26.3" textLength="100.0" lengthAdjust="spacingAndGlyphs">Mouse 1</text>
<line x1="803.5" y1="709" x2="830" y2="709" stroke="#3ec3ab" stroke-width="4" stroke-linecap="round"/>
<text x="843.0" y="717.6" font-size="26.3" textLength="104.0" lengthAdjust="spacingAndGlyphs">Mouse 2</text>
<line x1="803.5" y1="740" x2="830" y2="740" stroke="#2a9483" stroke-width="4" stroke-linecap="round"/>
<text x="843.0" y="748.6" font-size="26.3" textLength="105.0" lengthAdjust="spacingAndGlyphs">Mouse 3</text>
<text transform="translate(1052.0 435.9) scale(1.17 1)" font-size="38" font-weight="bold" stroke="#000" stroke-width="1.7" stroke-linejoin="round">c</text>
<path d="M1186.2,445.8 V726.8 H1808.0" fill="none" stroke="#1a1a1a" stroke-width="1.45"/>
<line x1="1172.9" y1="499.6" x2="1186.2" y2="499.6" stroke="#1a1a1a" stroke-width="1.45"/>
<text x="1160.5" y="507.1" font-size="23" text-anchor="end" textLength="45.9" lengthAdjust="spacingAndGlyphs">10.0</text>
<line x1="1172.9" y1="598.2" x2="1186.2" y2="598.2" stroke="#1a1a1a" stroke-width="1.45"/>
<text x="1160.5" y="605.7" font-size="23" text-anchor="end" textLength="30.4" lengthAdjust="spacingAndGlyphs">1.0</text>
<line x1="1172.9" y1="696.9" x2="1186.2" y2="696.9" stroke="#1a1a1a" stroke-width="1.45"/>
<text x="1160.5" y="704.4" font-size="23" text-anchor="end" textLength="28.6" lengthAdjust="spacingAndGlyphs">0.1</text>
<line x1="1240.7" y1="726.8" x2="1240.7" y2="740.3" stroke="#1a1a1a" stroke-width="1.45"/>
<text x="1240.7" y="770.1" font-size="23" text-anchor="middle">5</text>
<line x1="1314.8" y1="726.8" x2="1314.8" y2="740.3" stroke="#1a1a1a" stroke-width="1.45"/>
<text x="1314.8" y="770.1" font-size="23" text-anchor="middle" textLength="23.6" lengthAdjust="spacingAndGlyphs">10</text>
<line x1="1432.1" y1="726.8" x2="1432.1" y2="740.3" stroke="#1a1a1a" stroke-width="1.45"/>
<text x="1432.1" y="770.1" font-size="23" text-anchor="middle" textLength="26.8" lengthAdjust="spacingAndGlyphs">30</text>
<line x1="1506.2" y1="726.8" x2="1506.2" y2="740.3" stroke="#1a1a1a" stroke-width="1.45"/>
<text x="1506.2" y="770.1" font-size="23" text-anchor="middle" textLength="28.2" lengthAdjust="spacingAndGlyphs">60</text>
<line x1="1580.2" y1="726.8" x2="1580.2" y2="740.3" stroke="#1a1a1a" stroke-width="1.45"/>
<text x="1580.2" y="770.1" font-size="23" text-anchor="middle" textLength="37.0" lengthAdjust="spacingAndGlyphs">120</text>
<line x1="1654.3" y1="726.8" x2="1654.3" y2="740.3" stroke="#1a1a1a" stroke-width="1.45"/>
<text x="1654.3" y="770.1" font-size="23" text-anchor="middle" textLength="41.3" lengthAdjust="spacingAndGlyphs">240</text>
<line x1="1728.3" y1="726.8" x2="1728.3" y2="740.3" stroke="#1a1a1a" stroke-width="1.45"/>
<text x="1728.3" y="770.1" font-size="23" text-anchor="middle" textLength="42.0" lengthAdjust="spacingAndGlyphs">480</text>
<clipPath id="cc"><rect x="1186.2" y="435.8" width="621.8" height="290.3999999999999"/></clipPath>
<text x="1465.5" y="812.1" font-size="27.8" text-anchor="middle" textLength="316.0" lengthAdjust="spacingAndGlyphs">Time post-injection (min)</text>
<text x="1088.9" y="586.4" font-size="28.4" text-anchor="middle" textLength="245.0" lengthAdjust="spacingAndGlyphs" transform="rotate(-90 1088.9 586.4)">Concentration (pM)</text>
<g clip-path="url(#cc)">
<polyline points="1240.7,632.0 1314.8,634.5 1388.8,638.6 1432.1,589.0 1462.9,570.4 1486.7,557.0 1506.2,563.9 1522.6,568.5 1536.9,573.0 1549.5,581.0 1560.8,608.0 1570.9,640.0 1580.2,669.3 1654.3,671.6 1697.6,657.7 1728.3,681.0" fill="none" stroke="#f9dfe1" stroke-width="3.7" stroke-linejoin="miter" stroke-linecap="butt" opacity="0.93"/>
<polyline points="1240.7,649.6 1314.8,649.0 1388.8,657.9 1432.1,600.5 1462.9,591.8 1486.7,578.0 1506.2,579.8 1522.6,580.3 1536.9,594.0 1549.5,603.0 1560.8,621.8 1570.9,649.6 1580.2,670.5 1654.3,677.4 1697.6,675.0 1728.3,705.7" fill="none" stroke="#f3bec3" stroke-width="3.7" stroke-linejoin="miter" stroke-linecap="butt" opacity="0.93"/>
<polyline points="1240.7,637.8 1314.8,640.0 1388.8,651.0 1432.1,588.0 1462.9,576.0 1486.7,561.4 1506.2,566.4 1522.6,557.0 1536.9,575.4 1549.5,582.4 1560.8,610.0 1570.9,642.7 1580.2,649.6 1654.3,654.7 1697.6,647.8 1728.3,687.2" fill="none" stroke="#e6929c" stroke-width="3.7" stroke-linejoin="miter" stroke-linecap="butt" opacity="0.93"/>
<polyline points="1240.7,609.0 1314.8,563.6 1388.8,543.8 1432.1,541.0 1462.9,533.5 1486.7,562.8 1506.2,571.0 1522.6,550.0 1536.9,568.5 1549.5,582.4 1560.8,608.0 1570.9,640.0 1580.2,708.7 1654.3,723.8 1697.6,726.5 1728.3,760.0" fill="none" stroke="#98ece0" stroke-width="3.7" stroke-linejoin="miter" stroke-linecap="butt" opacity="0.93"/>
<polyline points="1240.7,628.0 1314.8,576.8 1388.8,567.0 1432.1,565.0 1462.9,547.5 1486.7,580.0 1506.2,575.0 1522.6,574.2 1536.9,580.0 1549.5,598.6 1560.8,624.0 1570.9,656.6 1580.2,723.8 1654.3,727.5 1697.6,740.0 1728.3,760.0" fill="none" stroke="#2a9483" stroke-width="3.7" stroke-linejoin="miter" stroke-linecap="butt" opacity="0.93"/>
<polyline points="1240.7,603.7 1314.8,552.6 1388.8,552.0 1432.1,555.4 1462.9,529.5 1486.7,566.0 1506.2,561.6 1522.6,562.2 1536.9,563.9 1549.5,587.0 1560.8,612.5 1570.9,645.0 1580.2,705.0 1654.3,711.0 1697.6,731.2 1728.3,745.0" fill="none" stroke="#3ec3ab" stroke-width="3.7" stroke-linejoin="miter" stroke-linecap="butt" opacity="0.93"/>
</g>
<g transform="translate(1726.0 404.2) scale(0.06849) translate(1399.2200000000007 0) scale(-1 1)">
<use href="#smallm" fill="#e0e0e0" stroke="#111" stroke-width="16.8" stroke-linejoin="round"/>
</g>
<circle cx="1758.6" cy="492" r="8.5" fill="url(#glow)" opacity="0.7"/>
<g transform="translate(1758.8 492.0) rotate(-21.6) scale(0.62)" stroke="#111" stroke-width="1.45">
<line x1="0" y1="0" x2="22" y2="0" stroke-width="1.61"/>
<rect x="22.5" y="-2.3" width="28" height="4.6" fill="#f3cf4f"/>
<rect x="50.5" y="-6.8" width="3.2" height="13.6" fill="#111"/>
<line x1="53" y1="0" x2="68" y2="0" stroke-width="2.74"/>
<path d="M66.5,-0.5 L70,-4.4 L70.6,4.4 L66.5,0.5 Z" fill="#111"/>
</g>
<text x="1692.5" y="464.6" font-size="25.5" textLength="36.7" lengthAdjust="spacingAndGlyphs">i.p.</text>
<text transform="translate(4.6 888.9) scale(1.19 1)" font-size="38" font-weight="bold" stroke="#000" stroke-width="1.7" stroke-linejoin="round">d</text>
<path d="M133.8,863.2 V1260.7 H755.6" fill="none" stroke="#1a1a1a" stroke-width="1.45"/>
<line x1="120.5" y1="911.4" x2="133.8" y2="911.4" stroke="#1a1a1a" stroke-width="1.45"/>
<text x="108.0" y="918.9" font-size="23" text-anchor="end" textLength="23.6" lengthAdjust="spacingAndGlyphs">10</text>
<line x1="120.5" y1="999.0" x2="133.8" y2="999.0" stroke="#1a1a1a" stroke-width="1.45"/>
<text x="108.0" y="1006.5" font-size="23" text-anchor="end">1</text>
<line x1="120.5" y1="1086.4" x2="133.8" y2="1086.4" stroke="#1a1a1a" stroke-width="1.45"/>
<text x="108.0" y="1093.9" font-size="23" text-anchor="end" textLength="28.6" lengthAdjust="spacingAndGlyphs">0.1</text>
<line x1="120.5" y1="1174.0" x2="133.8" y2="1174.0" stroke="#1a1a1a" stroke-width="1.45"/>
<text x="108.0" y="1181.5" font-size="23" text-anchor="end" textLength="42.9" lengthAdjust="spacingAndGlyphs">0.01</text>
<line x1="120.5" y1="1260.7" x2="133.8" y2="1260.7" stroke="#1a1a1a" stroke-width="1.45"/>
<text x="108.0" y="1268.2" font-size="23" text-anchor="end" textLength="59.1" lengthAdjust="spacingAndGlyphs">0.001</text>
<line x1="188.2" y1="1260.7" x2="188.2" y2="1274.2" stroke="#1a1a1a" stroke-width="1.45"/>
<text x="188.2" y="1304.0" font-size="23" text-anchor="middle">5</text>
<line x1="262.3" y1="1260.7" x2="262.3" y2="1274.2" stroke="#1a1a1a" stroke-width="1.45"/>
<text x="262.3" y="1304.0" font-size="23" text-anchor="middle" textLength="23.6" lengthAdjust="spacingAndGlyphs">10</text>
<line x1="379.6" y1="1260.7" x2="379.6" y2="1274.2" stroke="#1a1a1a" stroke-width="1.45"/>
<text x="379.6" y="1304.0" font-size="23" text-anchor="middle" textLength="26.8" lengthAdjust="spacingAndGlyphs">30</text>
<line x1="453.7" y1="1260.7" x2="453.7" y2="1274.2" stroke="#1a1a1a" stroke-width="1.45"/>
<text x="453.7" y="1304.0" font-size="23" text-anchor="middle" textLength="28.2" lengthAdjust="spacingAndGlyphs">60</text>
<line x1="527.7" y1="1260.7" x2="527.7" y2="1274.2" stroke="#1a1a1a" stroke-width="1.45"/>
<text x="527.7" y="1304.0" font-size="23" text-anchor="middle" textLength="37.0" lengthAdjust="spacingAndGlyphs">120</text>
<line x1="601.8" y1="1260.7" x2="601.8" y2="1274.2" stroke="#1a1a1a" stroke-width="1.45"/>
<text x="601.8" y="1304.0" font-size="23" text-anchor="middle" textLength="41.3" lengthAdjust="spacingAndGlyphs">240</text>
<line x1="675.8" y1="1260.7" x2="675.8" y2="1274.2" stroke="#1a1a1a" stroke-width="1.45"/>
<text x="675.8" y="1304.0" font-size="23" text-anchor="middle" textLength="42.0" lengthAdjust="spacingAndGlyphs">480</text>
<clipPath id="cd"><rect x="133.8" y="853.2" width="621.8" height="406.9"/></clipPath>
<text x="445.0" y="1346.0" font-size="27.8" text-anchor="middle" textLength="316.0" lengthAdjust="spacingAndGlyphs">Time post-injection (min)</text>
<text x="29.4" y="1063.0" font-size="28.4" text-anchor="middle" textLength="245.0" lengthAdjust="spacingAndGlyphs" transform="rotate(-90 29.4 1063.0)">Concentration (pM)</text>
<g clip-path="url(#cd)">
<polyline points="188.2,870.0 262.3,914.3 336.3,986.2 379.6,1026.7 410.4,1092.0 434.2,1064.3 453.7,1102.8 470.1,1082.3 484.4,1082.7 497.0,1085.4 508.3,1085.4 518.4,1085.6 527.7,1098.1 601.8,1109.0 645.1,1082.9 675.8,1126.4" fill="none" stroke="#000" stroke-width="2.25" stroke-linejoin="miter" stroke-linecap="butt"/>
<polyline points="188.2,868.7 262.3,903.8 336.3,958.0 379.6,1003.4 410.4,1071.1 434.2,1055.3 453.7,1093.5 470.1,1060.4 484.4,1059.3 497.0,1057.3 508.3,1060.6 518.4,1064.3 527.7,1077.5 601.8,1142.7 645.1,1064.8 675.8,1113.4" fill="none" stroke="#000" stroke-width="2.25" stroke-linejoin="miter" stroke-linecap="butt" stroke-dasharray="6 0.4"/>
<polyline points="188.2,963.8 262.3,1007.7 336.3,1026.0 379.6,1029.5 410.4,1045.0 434.2,1019.8 453.7,1029.0 470.1,1027.7 484.4,1029.0 497.0,1033.0 508.3,1033.6 518.4,1034.3 527.7,1030.6 601.8,1047.4 645.1,1052.0 675.8,1067.6" fill="none" stroke="#000" stroke-width="2.25" stroke-linejoin="miter" stroke-linecap="butt" stroke-dasharray="4.4 1.6"/>
<polyline points="188.2,918.2 262.3,995.0 336.3,1063.8 379.6,1102.0 410.4,1169.7 434.2,1133.0 453.7,1160.0 470.1,1162.3 484.4,1166.6 497.0,1166.6 508.3,1169.6 518.4,1175.8 527.7,1178.9 601.8,1195.0 645.1,1194.0 675.8,1179.0" fill="none" stroke="#000" stroke-width="2.25" stroke-linejoin="miter" stroke-linecap="butt" stroke-dasharray="6.5 2.8"/>
<polyline points="188.2,878.6 262.3,896.2 336.3,954.6 379.6,975.2 410.4,1033.0 434.2,1008.6 453.7,1023.7 470.1,1004.6 484.4,999.0 497.0,1006.6 508.3,1020.8 518.4,1036.9 527.7,1038.0 601.8,1015.0 645.1,1027.8 675.8,1055.8" fill="none" stroke="#000" stroke-width="2.25" stroke-linejoin="miter" stroke-linecap="butt" stroke-dasharray="9 4.5"/>
<polyline points="188.2,984.4 262.3,933.6 336.3,952.5 379.6,980.0 410.4,1006.6 434.2,1029.7 453.7,1049.4 470.1,1050.3 484.4,1053.4 497.0,1050.3 508.3,1045.0 518.4,1042.2 527.7,1092.9 601.8,1029.3 645.1,1038.6 675.8,1042.7" fill="none" stroke="#000" stroke-width="2.25" stroke-linejoin="miter" stroke-linecap="butt" stroke-dasharray="3.3 5"/>
<polyline points="188.2,908.8 262.3,955.0 336.3,971.8 379.6,984.0 410.4,1162.3 434.2,982.7 453.7,992.0 470.1,1002.7 484.4,1010.0 497.0,1001.0 508.3,993.2 518.4,987.1 527.7,981.3 601.8,990.0 645.1,987.6 675.8,986.7" fill="none" stroke="#000" stroke-width="2.25" stroke-linejoin="miter" stroke-linecap="butt" stroke-dasharray="11 8"/>
<polyline points="188.2,866.0 262.3,891.0 336.3,949.0 379.6,1003.4 410.4,1060.0 434.2,1049.8 453.7,1086.3 470.1,1069.8 484.4,1055.3 497.0,1062.6 508.3,1063.0 518.4,1060.0 527.7,1067.2 601.8,1100.3 645.1,1059.6 675.8,1214.2" fill="none" stroke="#000" stroke-width="2.25" stroke-linejoin="miter" stroke-linecap="butt" stroke-dasharray="1.3 1.3"/>
<polyline points="188.2,912.0 262.3,991.0 336.3,1059.0 379.6,1102.0 410.4,1138.0 434.2,1175.2 453.7,1165.3 470.1,1159.4 484.4,1158.7 497.0,1153.8 508.3,1150.8 518.4,1150.8 527.7,1145.2 601.8,1156.3 645.1,1135.2 675.8,1179.0" fill="none" stroke="#000" stroke-width="2.25" stroke-linejoin="miter" stroke-linecap="butt" stroke-dasharray="4 2.6"/>
<g fill="#f0adb6" stroke="#3a2226" stroke-width="0.55">
<circle cx="188.2" cy="870.0" r="4.0"/>
<circle cx="262.3" cy="914.3" r="4.0"/>
<circle cx="336.3" cy="986.2" r="4.0"/>
<circle cx="379.6" cy="1026.7" r="4.0"/>
<circle cx="410.4" cy="1092.0" r="4.0"/>
<circle cx="434.2" cy="1064.3" r="4.0"/>
<circle cx="453.7" cy="1102.8" r="4.0"/>
<circle cx="470.1" cy="1082.3" r="4.0"/>
<circle cx="484.4" cy="1082.7" r="4.0"/>
<circle cx="497.0" cy="1085.4" r="4.0"/>
<circle cx="508.3" cy="1085.4" r="4.0"/>
<circle cx="518.4" cy="1085.6" r="4.0"/>
<circle cx="527.7" cy="1098.1" r="4.0"/>
<circle cx="601.8" cy="1109.0" r="4.0"/>
<circle cx="645.1" cy="1082.9" r="4.0"/>
<circle cx="675.8" cy="1126.4" r="4.0"/>
<circle cx="188.2" cy="868.7" r="4.0"/>
<circle cx="262.3" cy="903.8" r="4.0"/>
<circle cx="336.3" cy="958.0" r="4.0"/>
<circle cx="379.6" cy="1003.4" r="4.0"/>
<circle cx="410.4" cy="1071.1" r="4.0"/>
<circle cx="434.2" cy="1055.3" r="4.0"/>
<circle cx="453.7" cy="1093.5" r="4.0"/>
<circle cx="470.1" cy="1060.4" r="4.0"/>
<circle cx="484.4" cy="1059.3" r="4.0"/>
<circle cx="497.0" cy="1057.3" r="4.0"/>
<circle cx="508.3" cy="1060.6" r="4.0"/>
<circle cx="518.4" cy="1064.3" r="4.0"/>
<circle cx="527.7" cy="1077.5" r="4.0"/>
<circle cx="601.8" cy="1142.7" r="4.0"/>
<circle cx="645.1" cy="1064.8" r="4.0"/>
<circle cx="675.8" cy="1113.4" r="4.0"/>
<circle cx="188.2" cy="963.8" r="4.0"/>
<circle cx="262.3" cy="1007.7" r="4.0"/>
<circle cx="336.3" cy="1026.0" r="4.0"/>
<circle cx="379.6" cy="1029.5" r="4.0"/>
<circle cx="410.4" cy="1045.0" r="4.0"/>
<circle cx="434.2" cy="1019.8" r="4.0"/>
<circle cx="453.7" cy="1029.0" r="4.0"/>
<circle cx="470.1" cy="1027.7" r="4.0"/>
<circle cx="484.4" cy="1029.0" r="4.0"/>
<circle cx="497.0" cy="1033.0" r="4.0"/>
<circle cx="508.3" cy="1033.6" r="4.0"/>
<circle cx="518.4" cy="1034.3" r="4.0"/>
<circle cx="527.7" cy="1030.6" r="4.0"/>
<circle cx="601.8" cy="1047.4" r="4.0"/>
<circle cx="645.1" cy="1052.0" r="4.0"/>
<circle cx="675.8" cy="1067.6" r="4.0"/>
<circle cx="188.2" cy="918.2" r="4.0"/>
<circle cx="262.3" cy="995.0" r="4.0"/>
<circle cx="336.3" cy="1063.8" r="4.0"/>
<circle cx="379.6" cy="1102.0" r="4.0"/>
<circle cx="410.4" cy="1169.7" r="4.0"/>
<circle cx="434.2" cy="1133.0" r="4.0"/>
<circle cx="453.7" cy="1160.0" r="4.0"/>
<circle cx="470.1" cy="1162.3" r="4.0"/>
<circle cx="484.4" cy="1166.6" r="4.0"/>
<circle cx="497.0" cy="1166.6" r="4.0"/>
<circle cx="508.3" cy="1169.6" r="4.0"/>
<circle cx="518.4" cy="1175.8" r="4.0"/>
<circle cx="527.7" cy="1178.9" r="4.0"/>
<circle cx="601.8" cy="1195.0" r="4.0"/>
<circle cx="645.1" cy="1194.0" r="4.0"/>
<circle cx="675.8" cy="1179.0" r="4.0"/>
<circle cx="188.2" cy="878.6" r="4.0"/>
<circle cx="262.3" cy="896.2" r="4.0"/>
<circle cx="336.3" cy="954.6" r="4.0"/>
<circle cx="379.6" cy="975.2" r="4.0"/>
<circle cx="410.4" cy="1033.0" r="4.0"/>
<circle cx="434.2" cy="1008.6" r="4.0"/>
<circle cx="453.7" cy="1023.7" r="4.0"/>
<circle cx="470.1" cy="1004.6" r="4.0"/>
<circle cx="484.4" cy="999.0" r="4.0"/>
<circle cx="497.0" cy="1006.6" r="4.0"/>
<circle cx="508.3" cy="1020.8" r="4.0"/>
<circle cx="518.4" cy="1036.9" r="4.0"/>
<circle cx="527.7" cy="1038.0" r="4.0"/>
<circle cx="601.8" cy="1015.0" r="4.0"/>
<circle cx="645.1" cy="1027.8" r="4.0"/>
<circle cx="675.8" cy="1055.8" r="4.0"/>
<circle cx="188.2" cy="984.4" r="4.0"/>
<circle cx="262.3" cy="933.6" r="4.0"/>
<circle cx="336.3" cy="952.5" r="4.0"/>
<circle cx="379.6" cy="980.0" r="4.0"/>
<circle cx="410.4" cy="1006.6" r="4.0"/>
<circle cx="434.2" cy="1029.7" r="4.0"/>
<circle cx="453.7" cy="1049.4" r="4.0"/>
<circle cx="470.1" cy="1050.3" r="4.0"/>
<circle cx="484.4" cy="1053.4" r="4.0"/>
<circle cx="497.0" cy="1050.3" r="4.0"/>
<circle cx="508.3" cy="1045.0" r="4.0"/>
<circle cx="518.4" cy="1042.2" r="4.0"/>
<circle cx="527.7" cy="1092.9" r="4.0"/>
<circle cx="601.8" cy="1029.3" r="4.0"/>
<circle cx="645.1" cy="1038.6" r="4.0"/>
<circle cx="675.8" cy="1042.7" r="4.0"/>
<circle cx="188.2" cy="908.8" r="4.0"/>
<circle cx="262.3" cy="955.0" r="4.0"/>
<circle cx="336.3" cy="971.8" r="4.0"/>
<circle cx="379.6" cy="984.0" r="4.0"/>
<circle cx="410.4" cy="1162.3" r="4.0"/>
<circle cx="434.2" cy="982.7" r="4.0"/>
<circle cx="453.7" cy="992.0" r="4.0"/>
<circle cx="470.1" cy="1002.7" r="4.0"/>
<circle cx="484.4" cy="1010.0" r="4.0"/>
<circle cx="497.0" cy="1001.0" r="4.0"/>
<circle cx="508.3" cy="993.2" r="4.0"/>
<circle cx="518.4" cy="987.1" r="4.0"/>
<circle cx="527.7" cy="981.3" r="4.0"/>
<circle cx="601.8" cy="990.0" r="4.0"/>
<circle cx="645.1" cy="987.6" r="4.0"/>
<circle cx="675.8" cy="986.7" r="4.0"/>
<circle cx="188.2" cy="866.0" r="4.0"/>
<circle cx="262.3" cy="891.0" r="4.0"/>
<circle cx="336.3" cy="949.0" r="4.0"/>
<circle cx="379.6" cy="1003.4" r="4.0"/>
<circle cx="410.4" cy="1060.0" r="4.0"/>
<circle cx="434.2" cy="1049.8" r="4.0"/>
<circle cx="453.7" cy="1086.3" r="4.0"/>
<circle cx="470.1" cy="1069.8" r="4.0"/>
<circle cx="484.4" cy="1055.3" r="4.0"/>
<circle cx="497.0" cy="1062.6" r="4.0"/>
<circle cx="508.3" cy="1063.0" r="4.0"/>
<circle cx="518.4" cy="1060.0" r="4.0"/>
<circle cx="527.7" cy="1067.2" r="4.0"/>
<circle cx="601.8" cy="1100.3" r="4.0"/>
<circle cx="645.1" cy="1059.6" r="4.0"/>
<circle cx="675.8" cy="1214.2" r="4.0"/>
<circle cx="188.2" cy="912.0" r="4.0"/>
<circle cx="262.3" cy="991.0" r="4.0"/>
<circle cx="336.3" cy="1059.0" r="4.0"/>
<circle cx="379.6" cy="1102.0" r="4.0"/>
<circle cx="410.4" cy="1138.0" r="4.0"/>
<circle cx="434.2" cy="1175.2" r="4.0"/>
<circle cx="453.7" cy="1165.3" r="4.0"/>
<circle cx="470.1" cy="1159.4" r="4.0"/>
<circle cx="484.4" cy="1158.7" r="4.0"/>
<circle cx="497.0" cy="1153.8" r="4.0"/>
<circle cx="508.3" cy="1150.8" r="4.0"/>
<circle cx="518.4" cy="1150.8" r="4.0"/>
<circle cx="527.7" cy="1145.2" r="4.0"/>
<circle cx="601.8" cy="1156.3" r="4.0"/>
<circle cx="645.1" cy="1135.2" r="4.0"/>
<circle cx="675.8" cy="1179.0" r="4.0"/>
</g>
<polyline points="188.2,891.4 262.3,923.0 336.3,971.8 379.6,1003.4 410.4,1060.0 434.2,1029.7 453.7,1044.2 470.1,1040.9 484.4,1040.6 497.0,1041.5 508.3,1041.5 518.4,1041.5 527.7,1041.5 601.8,1042.4 645.1,1040.9 675.8,1054.0" fill="none" stroke="#f3c0c5" stroke-width="4.8" stroke-linejoin="round" stroke-linecap="butt" opacity="0.93"/>
</g>
<text x="687.3" y="994.0" font-size="20.5" text-anchor="middle">7</text>
<text x="655.5" y="1028.3" font-size="20.5" text-anchor="middle">5</text>
<text x="687.3" y="1047.3" font-size="20.5" text-anchor="middle">6</text>
<text x="687.0" y="1079.3" font-size="20.5" text-anchor="middle">3</text>
<text x="687.0" y="1119.3" font-size="20.5" text-anchor="middle">2</text>
<text x="685.0" y="1139.3" font-size="20.5" text-anchor="middle">1</text>
<text x="687.0" y="1185.3" font-size="20.5" text-anchor="middle">9</text>
<text x="652.7" y="1211.3" font-size="20.5" text-anchor="middle">4</text>
<text x="687.0" y="1224.3" font-size="20.5" text-anchor="middle">8</text>
<path d="M563.0,873.5L550.8,886.6 M550.8,886.6L550.8,909.6 M550.8,909.6L563.0,923.2 M563.0,923.2L575.5,910.5 M575.5,910.5L575.5,885.8 M575.5,885.8L563.0,873.5 M563.0,873.5L563.0,923.2 M550.8,886.6L575.5,910.5 M550.8,909.6L575.5,885.8 M563.0,873.5L641.4,880.7 M575.5,885.8L650.4,889.5 M575.5,910.5L650.4,907.1 M563.0,923.2L643.1,915.6 M641.4,880.7L650.4,889.5 M650.4,889.5L650.4,907.1 M650.4,907.1L643.1,915.6 M603.1,887.1L603.1,909.3 M623.5,888.2L623.5,908.4 M639.7,889.0L639.7,907.6 M594.6,876.4L603.1,887.1 M615.0,878.3L623.5,888.2 M630.3,879.6L639.7,889.0 M603.1,909.3L592.9,920.3 M623.5,908.4L615.0,918.3 M639.7,907.6L630.3,916.8 M575.5,885.8L603.1,909.3 M603.1,887.1L623.5,908.4 M623.5,888.2L639.7,907.6 M639.7,889.0L650.4,907.1 M563.0,873.5L603.1,887.1 M594.6,876.4L623.5,888.2 M615.0,878.3L639.7,889.0 M630.3,879.6L650.4,889.5 M575.5,910.5L592.9,920.3 M603.1,909.3L615.0,918.3 M623.5,908.4L630.3,916.8 M639.7,907.6L643.1,915.6" fill="none" stroke="#111" stroke-width="1.45" stroke-linecap="round" stroke-linejoin="round"/>
<text x="483.8" y="885.5" font-size="17.5" textLength="16.0" lengthAdjust="spacingAndGlyphs">W</text>
<text x="502.2" y="897.4" font-size="27" textLength="40.5" lengthAdjust="spacingAndGlyphs">rod</text>
<circle cx="711" cy="884.5" r="8" fill="url(#glow)"/>
<g transform="translate(650.0 850.0) scale(0.06849)">
<use href="#smallm" fill="#e0e0e0" stroke="#111" stroke-width="16.8" stroke-linejoin="round"/>
<use href="#smallm" fill="none" stroke="#111" stroke-width="29.2" stroke-linejoin="round" clip-path="url(#csmall)"/>
<path d="M800,1500 C790,1430 815,1410 840,1410 C880,1415 880,1480 875,1540 M1070,1525 C1085,1450 1105,1405 1135,1405 C1165,1410 1160,1460 1155,1510" fill="none" stroke="#111" stroke-width="29.2" stroke-linecap="round"/>
</g>
<circle cx="711.5" cy="885" r="5.5" fill="url(#glow)" opacity="0.8"/>
<g transform="translate(711.5 884.6) rotate(-12.5) scale(0.62)" stroke="#111" stroke-width="1.45">
<line x1="0" y1="0" x2="22" y2="0" stroke-width="1.61"/>
<rect x="22.5" y="-2.3" width="28" height="4.6" fill="#f3cf4f"/>
<rect x="50.5" y="-6.8" width="3.2" height="13.6" fill="#111"/>
<line x1="53" y1="0" x2="68" y2="0" stroke-width="2.74"/>
<path d="M66.5,-0.5 L70,-4.4 L70.6,4.4 L66.5,0.5 Z" fill="#111"/>
</g>
<text x="657.6" y="957.6" font-size="25.5" textLength="32.7" lengthAdjust="spacingAndGlyphs">i.v.</text>
<text transform="translate(1052.2 888.9) scale(1.17 1)" font-size="38" font-weight="bold" stroke="#000" stroke-width="1.7" stroke-linejoin="round">e</text>
<path d="M1186.0,863.2 V1260.7 H1808.0" fill="none" stroke="#1a1a1a" stroke-width="1.45"/>
<line x1="1172.7" y1="911.4" x2="1186.0" y2="911.4" stroke="#1a1a1a" stroke-width="1.45"/>
<text x="1160.5" y="918.9" font-size="23" text-anchor="end" textLength="23.6" lengthAdjust="spacingAndGlyphs">10</text>
<line x1="1172.7" y1="999.0" x2="1186.0" y2="999.0" stroke="#1a1a1a" stroke-width="1.45"/>
<text x="1160.5" y="1006.5" font-size="23" text-anchor="end">1</text>
<line x1="1172.7" y1="1086.4" x2="1186.0" y2="1086.4" stroke="#1a1a1a" stroke-width="1.45"/>
<text x="1160.5" y="1093.9" font-size="23" text-anchor="end" textLength="28.6" lengthAdjust="spacingAndGlyphs">0.1</text>
<line x1="1172.7" y1="1174.0" x2="1186.0" y2="1174.0" stroke="#1a1a1a" stroke-width="1.45"/>
<text x="1160.5" y="1181.5" font-size="23" text-anchor="end" textLength="42.9" lengthAdjust="spacingAndGlyphs">0.01</text>
<line x1="1172.7" y1="1260.7" x2="1186.0" y2="1260.7" stroke="#1a1a1a" stroke-width="1.45"/>
<text x="1160.5" y="1268.2" font-size="23" text-anchor="end" textLength="59.1" lengthAdjust="spacingAndGlyphs">0.001</text>
<line x1="1240.7" y1="1260.7" x2="1240.7" y2="1274.2" stroke="#1a1a1a" stroke-width="1.45"/>
<text x="1240.7" y="1304.0" font-size="23" text-anchor="middle">5</text>
<line x1="1314.8" y1="1260.7" x2="1314.8" y2="1274.2" stroke="#1a1a1a" stroke-width="1.45"/>
<text x="1314.8" y="1304.0" font-size="23" text-anchor="middle" textLength="23.6" lengthAdjust="spacingAndGlyphs">10</text>
<line x1="1432.1" y1="1260.7" x2="1432.1" y2="1274.2" stroke="#1a1a1a" stroke-width="1.45"/>
<text x="1432.1" y="1304.0" font-size="23" text-anchor="middle" textLength="26.8" lengthAdjust="spacingAndGlyphs">30</text>
<line x1="1506.2" y1="1260.7" x2="1506.2" y2="1274.2" stroke="#1a1a1a" stroke-width="1.45"/>
<text x="1506.2" y="1304.0" font-size="23" text-anchor="middle" textLength="28.2" lengthAdjust="spacingAndGlyphs">60</text>
<line x1="1580.2" y1="1260.7" x2="1580.2" y2="1274.2" stroke="#1a1a1a" stroke-width="1.45"/>
<text x="1580.2" y="1304.0" font-size="23" text-anchor="middle" textLength="37.0" lengthAdjust="spacingAndGlyphs">120</text>
<line x1="1654.3" y1="1260.7" x2="1654.3" y2="1274.2" stroke="#1a1a1a" stroke-width="1.45"/>
<text x="1654.3" y="1304.0" font-size="23" text-anchor="middle" textLength="41.3" lengthAdjust="spacingAndGlyphs">240</text>
<line x1="1728.3" y1="1260.7" x2="1728.3" y2="1274.2" stroke="#1a1a1a" stroke-width="1.45"/>
<text x="1728.3" y="1304.0" font-size="23" text-anchor="middle" textLength="42.0" lengthAdjust="spacingAndGlyphs">480</text>
<clipPath id="ce"><rect x="1186" y="853.2" width="622" height="406.9"/></clipPath>
<text x="1465.5" y="1346.0" font-size="27.8" text-anchor="middle" textLength="316.0" lengthAdjust="spacingAndGlyphs">Time post-injection (min)</text>
<text x="1076.9" y="1063.0" font-size="28.4" text-anchor="middle" textLength="245.0" lengthAdjust="spacingAndGlyphs" transform="rotate(-90 1076.9 1063.0)">Concentration (pM)</text>
<g clip-path="url(#ce)">
<polyline points="1388.8,1035.9 1432.1,956.7 1462.9,955.0 1486.7,938.0 1506.2,946.1 1522.6,944.1 1536.9,960.5 1549.5,968.9 1560.8,995.8 1570.9,1021.6 1580.2,1032.9" fill="none" stroke="#000" stroke-width="2.6" stroke-linejoin="miter" stroke-linecap="butt"/>
</g>
<g clip-path="url(#ce)">
<polyline points="1240.7,1033.8 1314.8,1039.3 1388.8,1035.9 1432.1,1022.0 1462.9,1006.3 1486.7,1006.8 1506.2,1002.6 1522.6,1006.0 1536.9,1008.5 1549.5,1021.0 1560.8,1031.0 1570.9,1041.9 1580.2,1049.7 1654.3,1073.9 1697.6,1061.0 1728.3,1110.0" fill="none" stroke="#000" stroke-width="2.25" stroke-linejoin="miter" stroke-linecap="butt"/>
<polyline points="1240.7,1063.0 1314.8,1049.8 1388.8,1048.6 1432.1,1027.8 1462.9,1010.2 1486.7,1009.3 1506.2,1015.2 1522.6,1023.2 1536.9,1018.6 1549.5,1027.9 1560.8,1031.2 1570.9,1032.6 1580.2,1032.9 1654.3,1041.1 1697.6,1042.3 1728.3,1054.7" fill="none" stroke="#000" stroke-width="2.25" stroke-linejoin="miter" stroke-linecap="butt" stroke-dasharray="6 0.4"/>
<polyline points="1240.7,1032.9 1314.8,1037.0 1388.8,1035.9 1432.1,956.7 1462.9,955.0 1486.7,938.0 1506.2,946.1 1522.6,944.1 1536.9,960.5 1549.5,968.9 1560.8,995.8 1570.9,1021.6 1580.2,1032.9 1654.3,1041.1 1697.6,1042.3 1728.3,1054.7" fill="none" stroke="#000" stroke-width="2.25" stroke-linejoin="miter" stroke-linecap="butt" stroke-dasharray="4.4 1.6"/>
<polyline points="1240.7,1056.7 1314.8,1045.0 1388.8,1044.0 1432.1,1022.0 1462.9,1010.0 1486.7,1002.0 1506.2,1004.3 1522.6,1006.0 1536.9,1008.5 1549.5,1021.0 1560.8,1031.0 1570.9,1041.9 1580.2,1049.7 1654.3,1073.9 1697.6,1061.0 1728.3,1110.0" fill="none" stroke="#000" stroke-width="2.25" stroke-linejoin="miter" stroke-linecap="butt" stroke-dasharray="6.5 2.8"/>
<polyline points="1240.7,1154.0 1314.8,1121.0 1388.8,1151.0 1432.1,1044.4 1462.9,1027.0 1486.7,1003.0 1506.2,1004.0 1522.6,1006.0 1536.9,1008.0 1549.5,1021.0 1560.8,1062.4 1570.9,1101.2 1580.2,1187.7 1654.3,1221.8 1697.6,1201.6 1728.3,1212.5" fill="none" stroke="#000" stroke-width="2.25" stroke-linejoin="miter" stroke-linecap="butt" stroke-dasharray="9 4.5"/>
<polyline points="1240.7,990.7 1314.8,999.0 1388.8,1060.2 1432.1,1033.6 1462.9,1022.0 1486.7,1009.0 1506.2,1015.0 1522.6,1023.0 1536.9,1021.0 1549.5,1035.5 1560.8,1050.6 1570.9,1069.9 1580.2,1089.8 1654.3,1115.8 1697.6,1113.4 1728.3,1128.2" fill="none" stroke="#000" stroke-width="2.25" stroke-linejoin="miter" stroke-linecap="butt" stroke-dasharray="3.3 5"/>
<polyline points="1240.7,1158.7 1314.8,1130.5 1388.8,1168.7 1432.1,1067.0 1462.9,1036.3 1486.7,1032.9 1506.2,1015.0 1522.6,1023.0 1536.9,1021.0 1549.5,1027.0 1560.8,1045.6 1570.9,1082.1 1580.2,1128.6 1654.3,1137.1 1697.6,1137.1 1728.3,1139.6" fill="none" stroke="#000" stroke-width="2.25" stroke-linejoin="miter" stroke-linecap="butt" stroke-dasharray="11 8"/>
<polyline points="1240.7,1089.7 1314.8,1053.7 1388.8,1025.9 1432.1,1038.9 1462.9,1040.5 1486.7,1086.0 1506.2,1087.7 1522.6,1102.0 1536.9,1107.0 1549.5,1112.5 1560.8,1129.3 1570.9,1144.2 1580.2,1147.5 1654.3,1150.4 1697.6,1193.3 1728.3,1196.9" fill="none" stroke="#000" stroke-width="2.25" stroke-linejoin="miter" stroke-linecap="butt" stroke-dasharray="1.3 1.3"/>
<polyline points="1240.7,1072.7 1314.8,1068.3 1388.8,1069.0 1432.1,1033.6 1462.9,996.2 1486.7,1002.0 1506.2,974.3 1522.6,978.1 1536.9,979.3 1549.5,995.0 1560.8,1017.8 1570.9,1032.0 1580.2,1054.7 1654.3,1034.7 1697.6,1036.2 1728.3,1075.6" fill="none" stroke="#000" stroke-width="2.25" stroke-linejoin="miter" stroke-linecap="butt" stroke-dasharray="4 2.6"/>
<g fill="#f0adb6" stroke="#3a2226" stroke-width="0.55">
<circle cx="1240.7" cy="1033.8" r="3.7"/>
<circle cx="1314.8" cy="1039.3" r="3.7"/>
<circle cx="1388.8" cy="1035.9" r="3.7"/>
<circle cx="1432.1" cy="1022.0" r="3.7"/>
<circle cx="1462.9" cy="1006.3" r="3.7"/>
<circle cx="1486.7" cy="1006.8" r="3.7"/>
<circle cx="1506.2" cy="1002.6" r="3.7"/>
<circle cx="1522.6" cy="1006.0" r="3.7"/>
<circle cx="1536.9" cy="1008.5" r="3.7"/>
<circle cx="1549.5" cy="1021.0" r="3.7"/>
<circle cx="1560.8" cy="1031.0" r="3.7"/>
<circle cx="1570.9" cy="1041.9" r="3.7"/>
<circle cx="1580.2" cy="1049.7" r="3.7"/>
<circle cx="1654.3" cy="1073.9" r="3.7"/>
<circle cx="1697.6" cy="1061.0" r="3.7"/>
<circle cx="1728.3" cy="1110.0" r="3.7"/>
<circle cx="1240.7" cy="1063.0" r="3.7"/>
<circle cx="1314.8" cy="1049.8" r="3.7"/>
<circle cx="1388.8" cy="1048.6" r="3.7"/>
<circle cx="1432.1" cy="1027.8" r="3.7"/>
<circle cx="1462.9" cy="1010.2" r="3.7"/>
<circle cx="1486.7" cy="1009.3" r="3.7"/>
<circle cx="1506.2" cy="1015.2" r="3.7"/>
<circle cx="1522.6" cy="1023.2" r="3.7"/>
<circle cx="1536.9" cy="1018.6" r="3.7"/>
<circle cx="1549.5" cy="1027.9" r="3.7"/>
<circle cx="1560.8" cy="1031.2" r="3.7"/>
<circle cx="1570.9" cy="1032.6" r="3.7"/>
<circle cx="1580.2" cy="1032.9" r="3.7"/>
<circle cx="1654.3" cy="1041.1" r="3.7"/>
<circle cx="1697.6" cy="1042.3" r="3.7"/>
<circle cx="1728.3" cy="1054.7" r="3.7"/>
<circle cx="1240.7" cy="1032.9" r="3.7"/>
<circle cx="1314.8" cy="1037.0" r="3.7"/>
<circle cx="1388.8" cy="1035.9" r="3.7"/>
<circle cx="1432.1" cy="956.7" r="3.7"/>
<circle cx="1462.9" cy="955.0" r="3.7"/>
<circle cx="1486.7" cy="938.0" r="3.7"/>
<circle cx="1506.2" cy="946.1" r="3.7"/>
<circle cx="1522.6" cy="944.1" r="3.7"/>
<circle cx="1536.9" cy="960.5" r="3.7"/>
<circle cx="1549.5" cy="968.9" r="3.7"/>
<circle cx="1560.8" cy="995.8" r="3.7"/>
<circle cx="1570.9" cy="1021.6" r="3.7"/>
<circle cx="1580.2" cy="1032.9" r="3.7"/>
<circle cx="1654.3" cy="1041.1" r="3.7"/>
<circle cx="1697.6" cy="1042.3" r="3.7"/>
<circle cx="1728.3" cy="1054.7" r="3.7"/>
<circle cx="1240.7" cy="1056.7" r="3.7"/>
<circle cx="1314.8" cy="1045.0" r="3.7"/>
<circle cx="1388.8" cy="1044.0" r="3.7"/>
<circle cx="1432.1" cy="1022.0" r="3.7"/>
<circle cx="1462.9" cy="1010.0" r="3.7"/>
<circle cx="1486.7" cy="1002.0" r="3.7"/>
<circle cx="1506.2" cy="1004.3" r="3.7"/>
<circle cx="1522.6" cy="1006.0" r="3.7"/>
<circle cx="1536.9" cy="1008.5" r="3.7"/>
<circle cx="1549.5" cy="1021.0" r="3.7"/>
<circle cx="1560.8" cy="1031.0" r="3.7"/>
<circle cx="1570.9" cy="1041.9" r="3.7"/>
<circle cx="1580.2" cy="1049.7" r="3.7"/>
<circle cx="1654.3" cy="1073.9" r="3.7"/>
<circle cx="1697.6" cy="1061.0" r="3.7"/>
<circle cx="1728.3" cy="1110.0" r="3.7"/>
<circle cx="1240.7" cy="1154.0" r="3.7"/>
<circle cx="1314.8" cy="1121.0" r="3.7"/>
<circle cx="1388.8" cy="1151.0" r="3.7"/>
<circle cx="1432.1" cy="1044.4" r="3.7"/>
<circle cx="1462.9" cy="1027.0" r="3.7"/>
<circle cx="1486.7" cy="1003.0" r="3.7"/>
<circle cx="1506.2" cy="1004.0" r="3.7"/>
<circle cx="1522.6" cy="1006.0" r="3.7"/>
<circle cx="1536.9" cy="1008.0" r="3.7"/>
<circle cx="1549.5" cy="1021.0" r="3.7"/>
<circle cx="1560.8" cy="1062.4" r="3.7"/>
<circle cx="1570.9" cy="1101.2" r="3.7"/>
<circle cx="1580.2" cy="1187.7" r="3.7"/>
<circle cx="1654.3" cy="1221.8" r="3.7"/>
<circle cx="1697.6" cy="1201.6" r="3.7"/>
<circle cx="1728.3" cy="1212.5" r="3.7"/>
<circle cx="1240.7" cy="990.7" r="3.7"/>
<circle cx="1314.8" cy="999.0" r="3.7"/>
<circle cx="1388.8" cy="1060.2" r="3.7"/>
<circle cx="1432.1" cy="1033.6" r="3.7"/>
<circle cx="1462.9" cy="1022.0" r="3.7"/>
<circle cx="1486.7" cy="1009.0" r="3.7"/>
<circle cx="1506.2" cy="1015.0" r="3.7"/>
<circle cx="1522.6" cy="1023.0" r="3.7"/>
<circle cx="1536.9" cy="1021.0" r="3.7"/>
<circle cx="1549.5" cy="1035.5" r="3.7"/>
<circle cx="1560.8" cy="1050.6" r="3.7"/>
<circle cx="1570.9" cy="1069.9" r="3.7"/>
<circle cx="1580.2" cy="1089.8" r="3.7"/>
<circle cx="1654.3" cy="1115.8" r="3.7"/>
<circle cx="1697.6" cy="1113.4" r="3.7"/>
<circle cx="1728.3" cy="1128.2" r="3.7"/>
<circle cx="1240.7" cy="1158.7" r="3.7"/>
<circle cx="1314.8" cy="1130.5" r="3.7"/>
<circle cx="1388.8" cy="1168.7" r="3.7"/>
<circle cx="1432.1" cy="1067.0" r="3.7"/>
<circle cx="1462.9" cy="1036.3" r="3.7"/>
<circle cx="1486.7" cy="1032.9" r="3.7"/>
<circle cx="1506.2" cy="1015.0" r="3.7"/>
<circle cx="1522.6" cy="1023.0" r="3.7"/>
<circle cx="1536.9" cy="1021.0" r="3.7"/>
<circle cx="1549.5" cy="1027.0" r="3.7"/>
<circle cx="1560.8" cy="1045.6" r="3.7"/>
<circle cx="1570.9" cy="1082.1" r="3.7"/>
<circle cx="1580.2" cy="1128.6" r="3.7"/>
<circle cx="1654.3" cy="1137.1" r="3.7"/>
<circle cx="1697.6" cy="1137.1" r="3.7"/>
<circle cx="1728.3" cy="1139.6" r="3.7"/>
<circle cx="1240.7" cy="1089.7" r="3.7"/>
<circle cx="1314.8" cy="1053.7" r="3.7"/>
<circle cx="1388.8" cy="1025.9" r="3.7"/>
<circle cx="1432.1" cy="1038.9" r="3.7"/>
<circle cx="1462.9" cy="1040.5" r="3.7"/>
<circle cx="1486.7" cy="1086.0" r="3.7"/>
<circle cx="1506.2" cy="1087.7" r="3.7"/>
<circle cx="1522.6" cy="1102.0" r="3.7"/>
<circle cx="1536.9" cy="1107.0" r="3.7"/>
<circle cx="1549.5" cy="1112.5" r="3.7"/>
<circle cx="1560.8" cy="1129.3" r="3.7"/>
<circle cx="1570.9" cy="1144.2" r="3.7"/>
<circle cx="1580.2" cy="1147.5" r="3.7"/>
<circle cx="1654.3" cy="1150.4" r="3.7"/>
<circle cx="1697.6" cy="1193.3" r="3.7"/>
<circle cx="1728.3" cy="1196.9" r="3.7"/>
<circle cx="1240.7" cy="1072.7" r="3.7"/>
<circle cx="1314.8" cy="1068.3" r="3.7"/>
<circle cx="1388.8" cy="1069.0" r="3.7"/>
<circle cx="1432.1" cy="1033.6" r="3.7"/>
<circle cx="1462.9" cy="996.2" r="3.7"/>
<circle cx="1486.7" cy="1002.0" r="3.7"/>
<circle cx="1506.2" cy="974.3" r="3.7"/>
<circle cx="1522.6" cy="978.1" r="3.7"/>
<circle cx="1536.9" cy="979.3" r="3.7"/>
<circle cx="1549.5" cy="995.0" r="3.7"/>
<circle cx="1560.8" cy="1017.8" r="3.7"/>
<circle cx="1570.9" cy="1032.0" r="3.7"/>
<circle cx="1580.2" cy="1054.7" r="3.7"/>
<circle cx="1654.3" cy="1034.7" r="3.7"/>
<circle cx="1697.6" cy="1036.2" r="3.7"/>
<circle cx="1728.3" cy="1075.6" r="3.7"/>
</g>
<polyline points="1240.7,1044.5 1314.8,1044.0 1388.8,1052.0 1432.1,1000.0 1462.9,992.5 1486.7,981.5 1506.2,982.7 1522.6,983.2 1536.9,992.5 1549.5,1004.3 1560.8,1024.5 1570.9,1046.4 1580.2,1063.3 1654.3,1067.9 1697.6,1066.0 1728.3,1093.8" fill="none" stroke="#f3c0c5" stroke-width="4.8" stroke-linejoin="round" stroke-linecap="butt" opacity="0.93"/>
</g>
<text x="1228.9" y="988.7" font-size="20.5" text-anchor="middle">6</text>
<text x="1421.3" y="953.9" font-size="20.5" text-anchor="middle">3</text>
<text x="1727.0" y="1049.9" font-size="20.5" text-anchor="middle">4</text>
<text x="1740.6" y="1061.3" font-size="20.5" text-anchor="middle">2</text>
<text x="1740.6" y="1083.3" font-size="20.5" text-anchor="middle">9</text>
<text x="1738.5" y="1117.3" font-size="20.5" text-anchor="middle">1</text>
<text x="1740.0" y="1153.7" font-size="20.5" text-anchor="middle">7</text>
<text x="1740.0" y="1197.1" font-size="20.5" text-anchor="middle">8</text>
<text x="1740.0" y="1221.9" font-size="20.5" text-anchor="middle">5</text>
<path d="M1608.8,873.5L1596.6,886.6 M1596.6,886.6L1596.6,909.6 M1596.6,909.6L1608.8,923.2 M1608.8,923.2L1621.3,910.5 M1621.3,910.5L1621.3,885.8 M1621.3,885.8L1608.8,873.5 M1608.8,873.5L1608.8,923.2 M1596.6,886.6L1621.3,910.5 M1596.6,909.6L1621.3,885.8 M1608.8,873.5L1687.2,880.7 M1621.3,885.8L1696.2,889.5 M1621.3,910.5L1696.2,907.1 M1608.8,923.2L1688.9,915.6 M1687.2,880.7L1696.2,889.5 M1696.2,889.5L1696.2,907.1 M1696.2,907.1L1688.9,915.6 M1648.9,887.1L1648.9,909.3 M1669.3,888.2L1669.3,908.4 M1685.5,889.0L1685.5,907.6 M1640.4,876.4L1648.9,887.1 M1660.8,878.3L1669.3,888.2 M1676.1,879.6L1685.5,889.0 M1648.9,909.3L1638.7,920.3 M1669.3,908.4L1660.8,918.3 M1685.5,907.6L1676.1,916.8 M1621.3,885.8L1648.9,909.3 M1648.9,887.1L1669.3,908.4 M1669.3,888.2L1685.5,907.6 M1685.5,889.0L1696.2,907.1 M1608.8,873.5L1648.9,887.1 M1640.4,876.4L1669.3,888.2 M1660.8,878.3L1685.5,889.0 M1676.1,879.6L1696.2,889.5 M1621.3,910.5L1638.7,920.3 M1648.9,909.3L1660.8,918.3 M1669.3,908.4L1676.1,916.8 M1685.5,907.6L1688.9,915.6" fill="none" stroke="#111" stroke-width="1.45" stroke-linecap="round" stroke-linejoin="round"/>
<text x="1528.1" y="885.5" font-size="17.5" textLength="16.0" lengthAdjust="spacingAndGlyphs">W</text>
<text x="1545.4" y="897.5" font-size="27" textLength="41.0" lengthAdjust="spacingAndGlyphs">rod</text>
<g transform="translate(1711.3 850.0) scale(0.06849)">
<use href="#smallm" fill="#e0e0e0" stroke="#111" stroke-width="16.8" stroke-linejoin="round"/>
</g>
<circle cx="1774.8" cy="938.5" r="8.5" fill="url(#glow)" opacity="0.7"/>
<g transform="translate(1774.8 938.6) rotate(202.8) scale(0.62)" stroke="#111" stroke-width="1.45">
<line x1="0" y1="0" x2="22" y2="0" stroke-width="1.61"/>
<rect x="22.5" y="-2.3" width="28" height="4.6" fill="#f3cf4f"/>
<rect x="50.5" y="-6.8" width="3.2" height="13.6" fill="#111"/>
<line x1="53" y1="0" x2="68" y2="0" stroke-width="2.74"/>
<path d="M66.5,-0.5 L70,-4.4 L70.6,4.4 L66.5,0.5 Z" fill="#111"/>
</g>
<text x="1708.4" y="957.3" font-size="25.5" textLength="36.4" lengthAdjust="spacingAndGlyphs">i.p.</text>
<text transform="translate(5.8 1431.3) scale(1.25 1)" font-size="38" font-weight="bold" stroke="#000" stroke-width="1.7" stroke-linejoin="round">f</text>
<path d="M133.8,1410.0 V1807.6 H755.6" fill="none" stroke="#1a1a1a" stroke-width="1.45"/>
<line x1="120.5" y1="1457.6" x2="133.8" y2="1457.6" stroke="#1a1a1a" stroke-width="1.45"/>
<text x="108.0" y="1465.1" font-size="23" text-anchor="end" textLength="23.6" lengthAdjust="spacingAndGlyphs">10</text>
<line x1="120.5" y1="1545.7" x2="133.8" y2="1545.7" stroke="#1a1a1a" stroke-width="1.45"/>
<text x="108.0" y="1553.2" font-size="23" text-anchor="end">1</text>
<line x1="120.5" y1="1632.8" x2="133.8" y2="1632.8" stroke="#1a1a1a" stroke-width="1.45"/>
<text x="108.0" y="1640.3" font-size="23" text-anchor="end" textLength="28.6" lengthAdjust="spacingAndGlyphs">0.1</text>
<line x1="120.5" y1="1720.2" x2="133.8" y2="1720.2" stroke="#1a1a1a" stroke-width="1.45"/>
<text x="108.0" y="1727.7" font-size="23" text-anchor="end" textLength="42.9" lengthAdjust="spacingAndGlyphs">0.01</text>
<line x1="120.5" y1="1807.6" x2="133.8" y2="1807.6" stroke="#1a1a1a" stroke-width="1.45"/>
<text x="108.0" y="1815.1" font-size="23" text-anchor="end" textLength="59.1" lengthAdjust="spacingAndGlyphs">0.001</text>
<line x1="188.2" y1="1807.6" x2="188.2" y2="1821.1" stroke="#1a1a1a" stroke-width="1.45"/>
<text x="188.2" y="1850.9" font-size="23" text-anchor="middle">5</text>
<line x1="262.3" y1="1807.6" x2="262.3" y2="1821.1" stroke="#1a1a1a" stroke-width="1.45"/>
<text x="262.3" y="1850.9" font-size="23" text-anchor="middle" textLength="23.6" lengthAdjust="spacingAndGlyphs">10</text>
<line x1="379.6" y1="1807.6" x2="379.6" y2="1821.1" stroke="#1a1a1a" stroke-width="1.45"/>
<text x="379.6" y="1850.9" font-size="23" text-anchor="middle" textLength="26.8" lengthAdjust="spacingAndGlyphs">30</text>
<line x1="453.7" y1="1807.6" x2="453.7" y2="1821.1" stroke="#1a1a1a" stroke-width="1.45"/>
<text x="453.7" y="1850.9" font-size="23" text-anchor="middle" textLength="28.2" lengthAdjust="spacingAndGlyphs">60</text>
<line x1="527.7" y1="1807.6" x2="527.7" y2="1821.1" stroke="#1a1a1a" stroke-width="1.45"/>
<text x="527.7" y="1850.9" font-size="23" text-anchor="middle" textLength="37.0" lengthAdjust="spacingAndGlyphs">120</text>
<line x1="601.8" y1="1807.6" x2="601.8" y2="1821.1" stroke="#1a1a1a" stroke-width="1.45"/>
<text x="601.8" y="1850.9" font-size="23" text-anchor="middle" textLength="41.3" lengthAdjust="spacingAndGlyphs">240</text>
<line x1="675.8" y1="1807.6" x2="675.8" y2="1821.1" stroke="#1a1a1a" stroke-width="1.45"/>
<text x="675.8" y="1850.9" font-size="23" text-anchor="middle" textLength="42.0" lengthAdjust="spacingAndGlyphs">480</text>
<clipPath id="cf"><rect x="133.8" y="1400" width="621.8" height="406.9999999999999"/></clipPath>
<text x="445.0" y="1892.9" font-size="27.8" text-anchor="middle" textLength="316.0" lengthAdjust="spacingAndGlyphs">Time post-injection (min)</text>
<text x="29.4" y="1610.0" font-size="28.4" text-anchor="middle" textLength="245.0" lengthAdjust="spacingAndGlyphs" transform="rotate(-90 29.4 1610.0)">Concentration (pM)</text>
<g clip-path="url(#cf)">
<polyline points="188.2,1481.9 262.3,1573.5 336.3,1619.4 379.6,1624.0 410.4,1759.1" fill="none" stroke="#000" stroke-width="2.25" stroke-linejoin="miter" stroke-linecap="butt"/>
<polyline points="484.4,1627.8 497.0,1621.7 508.3,1601.7 518.4,1591.3 527.7,1587.0 601.8,1571.3 645.1,1585.2 675.8,1604.3" fill="none" stroke="#000" stroke-width="2.25" stroke-linejoin="miter" stroke-linecap="butt"/>
<polyline points="188.2,1502.8 262.3,1575.8 336.3,1593.9 379.6,1595.5 410.4,1590.4 434.2,1600.9 453.7,1740.0 470.1,1652.7 484.4,1627.8 497.0,1625.2 508.3,1628.7 518.4,1627.0 527.7,1627.8 601.8,1631.8 645.1,1647.8 675.8,1631.8" fill="none" stroke="#000" stroke-width="2.25" stroke-linejoin="miter" stroke-linecap="butt" stroke-dasharray="6 0.4"/>
<polyline points="188.2,1608.7 262.3,1634.5 336.3,1703.3 379.6,1786.3 410.4,1655.7 434.2,1696.5 453.7,1697.9 470.1,1688.7 484.4,1680.0 497.0,1670.1 508.3,1663.5 518.4,1661.7 527.7,1655.3 601.8,1864.0 645.1,1667.3 675.8,1648.7" fill="none" stroke="#000" stroke-width="2.25" stroke-linejoin="miter" stroke-linecap="butt" stroke-dasharray="4.4 1.6"/>
<polyline points="188.2,1418.2 262.3,1502.3 336.3,1579.3 379.6,1611.7 410.4,1600.9 434.2,1622.6 453.7,1606.1 470.1,1611.3 484.4,1624.3 497.0,1625.2 508.3,1628.7 518.4,1627.0 527.7,1631.3 601.8,1648.7 645.1,1585.2 675.8,1600.0" fill="none" stroke="#000" stroke-width="2.25" stroke-linejoin="miter" stroke-linecap="butt" stroke-dasharray="6.5 2.8"/>
<polyline points="188.2,1422.4 262.3,1512.1 336.3,1612.9 379.6,1589.7 410.4,1632.2 434.2,1634.8 453.7,1618.3 470.1,1582.6 484.4,1566.4 497.0,1558.8 508.3,1547.5 518.4,1541.7 527.7,1537.9 601.8,1567.8 645.1,1547.8 675.8,1587.8" fill="none" stroke="#000" stroke-width="2.25" stroke-linejoin="miter" stroke-linecap="butt" stroke-dasharray="9 4.5"/>
<polyline points="188.2,1436.3 262.3,1544.5 336.3,1575.8 379.6,1581.6 410.4,1576.0 434.2,1589.6 453.7,1668.7 470.1,1625.2 484.4,1601.7 497.0,1590.4 508.3,1579.1 518.4,1570.4 527.7,1566.1 601.8,1553.6 645.1,1568.7 675.8,1594.8" fill="none" stroke="#000" stroke-width="2.25" stroke-linejoin="miter" stroke-linecap="butt" stroke-dasharray="3.3 5"/>
<polyline points="188.2,1523.7 262.3,1588.6 336.3,1631.0 379.6,1650.4 410.4,1623.1 434.2,1634.8 453.7,1627.8 470.1,1623.5 484.4,1633.0 497.0,1644.0 508.3,1654.8 518.4,1676.0 527.7,1730.4 601.8,1618.3 645.1,1599.7 675.8,1600.0" fill="none" stroke="#000" stroke-width="2.25" stroke-linejoin="miter" stroke-linecap="butt" stroke-dasharray="11 8"/>
<polyline points="188.2,1473.3 262.3,1567.7 336.3,1724.2 379.6,1720.0 410.4,1703.5 434.2,1696.5 453.7,1715.7 470.1,1710.4 484.4,1707.8 497.0,1703.5 508.3,1701.7 518.4,1697.4 527.7,1694.8 601.8,1727.5 645.1,1693.9 675.8,1676.5" fill="none" stroke="#000" stroke-width="2.25" stroke-linejoin="miter" stroke-linecap="butt" stroke-dasharray="1.3 1.3"/>
<polyline points="188.2,1458.1 262.3,1515.5 336.3,1786.3 379.6,1636.1 410.4,1611.3 434.2,1622.6 453.7,1608.7 470.1,1611.3 484.4,1614.8 497.0,1614.8 508.3,1620.0 518.4,1620.0 527.7,1616.9 601.8,1604.9 645.1,1587.0 675.8,1566.1" fill="none" stroke="#000" stroke-width="2.25" stroke-linejoin="miter" stroke-linecap="butt" stroke-dasharray="4 2.6"/>
<g fill="#2dbfa7" stroke="#0e6e60" stroke-width="0.55">
<circle cx="188.2" cy="1481.9" r="3.6"/>
<circle cx="262.3" cy="1573.5" r="3.6"/>
<circle cx="336.3" cy="1619.4" r="3.6"/>
<circle cx="379.6" cy="1624.0" r="3.6"/>
<circle cx="410.4" cy="1759.1" r="3.6"/>
<circle cx="484.4" cy="1627.8" r="3.6"/>
<circle cx="497.0" cy="1621.7" r="3.6"/>
<circle cx="508.3" cy="1601.7" r="3.6"/>
<circle cx="518.4" cy="1591.3" r="3.6"/>
<circle cx="527.7" cy="1587.0" r="3.6"/>
<circle cx="601.8" cy="1571.3" r="3.6"/>
<circle cx="645.1" cy="1585.2" r="3.6"/>
<circle cx="675.8" cy="1604.3" r="3.6"/>
<circle cx="188.2" cy="1502.8" r="3.6"/>
<circle cx="262.3" cy="1575.8" r="3.6"/>
<circle cx="336.3" cy="1593.9" r="3.6"/>
<circle cx="379.6" cy="1595.5" r="3.6"/>
<circle cx="410.4" cy="1590.4" r="3.6"/>
<circle cx="434.2" cy="1600.9" r="3.6"/>
<circle cx="453.7" cy="1740.0" r="3.6"/>
<circle cx="470.1" cy="1652.7" r="3.6"/>
<circle cx="484.4" cy="1627.8" r="3.6"/>
<circle cx="497.0" cy="1625.2" r="3.6"/>
<circle cx="508.3" cy="1628.7" r="3.6"/>
<circle cx="518.4" cy="1627.0" r="3.6"/>
<circle cx="527.7" cy="1627.8" r="3.6"/>
<circle cx="601.8" cy="1631.8" r="3.6"/>
<circle cx="645.1" cy="1647.8" r="3.6"/>
<circle cx="675.8" cy="1631.8" r="3.6"/>
<circle cx="188.2" cy="1608.7" r="3.6"/>
<circle cx="262.3" cy="1634.5" r="3.6"/>
<circle cx="336.3" cy="1703.3" r="3.6"/>
<circle cx="379.6" cy="1786.3" r="3.6"/>
<circle cx="410.4" cy="1655.7" r="3.6"/>
<circle cx="434.2" cy="1696.5" r="3.6"/>
<circle cx="453.7" cy="1697.9" r="3.6"/>
<circle cx="470.1" cy="1688.7" r="3.6"/>
<circle cx="484.4" cy="1680.0" r="3.6"/>
<circle cx="497.0" cy="1670.1" r="3.6"/>
<circle cx="508.3" cy="1663.5" r="3.6"/>
<circle cx="518.4" cy="1661.7" r="3.6"/>
<circle cx="527.7" cy="1655.3" r="3.6"/>
<circle cx="601.8" cy="1864.0" r="3.6"/>
<circle cx="645.1" cy="1667.3" r="3.6"/>
<circle cx="675.8" cy="1648.7" r="3.6"/>
<circle cx="188.2" cy="1418.2" r="3.6"/>
<circle cx="262.3" cy="1502.3" r="3.6"/>
<circle cx="336.3" cy="1579.3" r="3.6"/>
<circle cx="379.6" cy="1611.7" r="3.6"/>
<circle cx="410.4" cy="1600.9" r="3.6"/>
<circle cx="434.2" cy="1622.6" r="3.6"/>
<circle cx="453.7" cy="1606.1" r="3.6"/>
<circle cx="470.1" cy="1611.3" r="3.6"/>
<circle cx="484.4" cy="1624.3" r="3.6"/>
<circle cx="497.0" cy="1625.2" r="3.6"/>
<circle cx="508.3" cy="1628.7" r="3.6"/>
<circle cx="518.4" cy="1627.0" r="3.6"/>
<circle cx="527.7" cy="1631.3" r="3.6"/>
<circle cx="601.8" cy="1648.7" r="3.6"/>
<circle cx="645.1" cy="1585.2" r="3.6"/>
<circle cx="675.8" cy="1600.0" r="3.6"/>
<circle cx="188.2" cy="1422.4" r="3.6"/>
<circle cx="262.3" cy="1512.1" r="3.6"/>
<circle cx="336.3" cy="1612.9" r="3.6"/>
<circle cx="379.6" cy="1589.7" r="3.6"/>
<circle cx="410.4" cy="1632.2" r="3.6"/>
<circle cx="434.2" cy="1634.8" r="3.6"/>
<circle cx="453.7" cy="1618.3" r="3.6"/>
<circle cx="470.1" cy="1582.6" r="3.6"/>
<circle cx="484.4" cy="1566.4" r="3.6"/>
<circle cx="497.0" cy="1558.8" r="3.6"/>
<circle cx="508.3" cy="1547.5" r="3.6"/>
<circle cx="518.4" cy="1541.7" r="3.6"/>
<circle cx="527.7" cy="1537.9" r="3.6"/>
<circle cx="601.8" cy="1567.8" r="3.6"/>
<circle cx="645.1" cy="1547.8" r="3.6"/>
<circle cx="675.8" cy="1587.8" r="3.6"/>
<circle cx="188.2" cy="1436.3" r="3.6"/>
<circle cx="262.3" cy="1544.5" r="3.6"/>
<circle cx="336.3" cy="1575.8" r="3.6"/>
<circle cx="379.6" cy="1581.6" r="3.6"/>
<circle cx="410.4" cy="1576.0" r="3.6"/>
<circle cx="434.2" cy="1589.6" r="3.6"/>
<circle cx="453.7" cy="1668.7" r="3.6"/>
<circle cx="470.1" cy="1625.2" r="3.6"/>
<circle cx="484.4" cy="1601.7" r="3.6"/>
<circle cx="497.0" cy="1590.4" r="3.6"/>
<circle cx="508.3" cy="1579.1" r="3.6"/>
<circle cx="518.4" cy="1570.4" r="3.6"/>
<circle cx="527.7" cy="1566.1" r="3.6"/>
<circle cx="601.8" cy="1553.6" r="3.6"/>
<circle cx="645.1" cy="1568.7" r="3.6"/>
<circle cx="675.8" cy="1594.8" r="3.6"/>
<circle cx="188.2" cy="1523.7" r="3.6"/>
<circle cx="262.3" cy="1588.6" r="3.6"/>
<circle cx="336.3" cy="1631.0" r="3.6"/>
<circle cx="379.6" cy="1650.4" r="3.6"/>
<circle cx="410.4" cy="1623.1" r="3.6"/>
<circle cx="434.2" cy="1634.8" r="3.6"/>
<circle cx="453.7" cy="1627.8" r="3.6"/>
<circle cx="470.1" cy="1623.5" r="3.6"/>
<circle cx="484.4" cy="1633.0" r="3.6"/>
<circle cx="497.0" cy="1644.0" r="3.6"/>
<circle cx="508.3" cy="1654.8" r="3.6"/>
<circle cx="518.4" cy="1676.0" r="3.6"/>
<circle cx="527.7" cy="1730.4" r="3.6"/>
<circle cx="601.8" cy="1618.3" r="3.6"/>
<circle cx="645.1" cy="1599.7" r="3.6"/>
<circle cx="675.8" cy="1600.0" r="3.6"/>
<circle cx="188.2" cy="1473.3" r="3.6"/>
<circle cx="262.3" cy="1567.7" r="3.6"/>
<circle cx="336.3" cy="1724.2" r="3.6"/>
<circle cx="379.6" cy="1720.0" r="3.6"/>
<circle cx="410.4" cy="1703.5" r="3.6"/>
<circle cx="434.2" cy="1696.5" r="3.6"/>
<circle cx="453.7" cy="1715.7" r="3.6"/>
<circle cx="470.1" cy="1710.4" r="3.6"/>
<circle cx="484.4" cy="1707.8" r="3.6"/>
<circle cx="497.0" cy="1703.5" r="3.6"/>
<circle cx="508.3" cy="1701.7" r="3.6"/>
<circle cx="518.4" cy="1697.4" r="3.6"/>
<circle cx="527.7" cy="1694.8" r="3.6"/>
<circle cx="601.8" cy="1727.5" r="3.6"/>
<circle cx="645.1" cy="1693.9" r="3.6"/>
<circle cx="675.8" cy="1676.5" r="3.6"/>
<circle cx="188.2" cy="1458.1" r="3.6"/>
<circle cx="262.3" cy="1515.5" r="3.6"/>
<circle cx="336.3" cy="1786.3" r="3.6"/>
<circle cx="379.6" cy="1636.1" r="3.6"/>
<circle cx="410.4" cy="1611.3" r="3.6"/>
<circle cx="434.2" cy="1622.6" r="3.6"/>
<circle cx="453.7" cy="1608.7" r="3.6"/>
<circle cx="470.1" cy="1611.3" r="3.6"/>
<circle cx="484.4" cy="1614.8" r="3.6"/>
<circle cx="497.0" cy="1614.8" r="3.6"/>
<circle cx="508.3" cy="1620.0" r="3.6"/>
<circle cx="518.4" cy="1620.0" r="3.6"/>
<circle cx="527.7" cy="1616.9" r="3.6"/>
<circle cx="601.8" cy="1604.9" r="3.6"/>
<circle cx="645.1" cy="1587.0" r="3.6"/>
<circle cx="675.8" cy="1566.1" r="3.6"/>
</g>
<polyline points="188.2,1454.1 262.3,1541.0 336.3,1611.7 379.6,1615.2 410.4,1610.4 434.2,1622.6 453.7,1635.7 470.1,1625.2 484.4,1614.8 497.0,1607.8 508.3,1600.9 518.4,1594.8 527.7,1591.3 601.8,1594.8 645.1,1588.7 675.8,1604.3" fill="none" stroke="#2cbfa6" stroke-width="4.8" stroke-linejoin="round" stroke-linecap="butt" opacity="0.93"/>
</g>
<text x="529.6" y="1532.3" font-size="20.5" text-anchor="middle">5</text>
<text x="440.8" y="1752.3" font-size="20.5" text-anchor="middle">1</text>
<text x="609.7" y="1551.6" font-size="20.5" text-anchor="middle">6</text>
<text x="687.0" y="1565.6" font-size="20.5" text-anchor="middle">9</text>
<text x="646.2" y="1620.3" font-size="20.5" text-anchor="middle">7</text>
<text x="687.0" y="1631.6" font-size="20.5" text-anchor="middle">2</text>
<text x="607.4" y="1669.0" font-size="20.5" text-anchor="middle">4</text>
<text x="687.0" y="1660.3" font-size="20.5" text-anchor="middle">3</text>
<text x="687.0" y="1688.2" font-size="20.5" text-anchor="middle">8</text>
<polygon points="565.0,1435.3 643.4,1442.5 652.4,1451.3 652.4,1468.9 645.1,1477.4 565.0,1485.0 552.8,1471.4 552.8,1448.4" fill="#00b294" stroke="#00b294" stroke-width="11" stroke-linejoin="round"/>
<circle cx="565.6" cy="1429.2" r="6.3" fill="#00b294"/>
<circle cx="576.8" cy="1430.2" r="6.3" fill="#00b294"/>
<circle cx="588.0" cy="1431.2" r="6.3" fill="#00b294"/>
<circle cx="599.2" cy="1432.3" r="6.3" fill="#00b294"/>
<circle cx="610.4" cy="1433.3" r="6.3" fill="#00b294"/>
<circle cx="621.6" cy="1434.3" r="6.3" fill="#00b294"/>
<circle cx="632.8" cy="1435.3" r="6.3" fill="#00b294"/>
<circle cx="647.7" cy="1438.1" r="6.3" fill="#00b294"/>
<circle cx="658.6" cy="1451.3" r="6.3" fill="#00b294"/>
<circle cx="658.6" cy="1460.1" r="6.3" fill="#00b294"/>
<circle cx="657.1" cy="1472.9" r="6.3" fill="#00b294"/>
<circle cx="645.7" cy="1483.5" r="6.3" fill="#00b294"/>
<circle cx="634.3" cy="1484.6" r="6.3" fill="#00b294"/>
<circle cx="622.8" cy="1485.7" r="6.3" fill="#00b294"/>
<circle cx="611.4" cy="1486.8" r="6.3" fill="#00b294"/>
<circle cx="599.9" cy="1487.9" r="6.3" fill="#00b294"/>
<circle cx="588.5" cy="1489.0" r="6.3" fill="#00b294"/>
<circle cx="577.1" cy="1490.1" r="6.3" fill="#00b294"/>
<circle cx="560.5" cy="1489.1" r="6.3" fill="#00b294"/>
<circle cx="554.4" cy="1482.3" r="6.3" fill="#00b294"/>
<circle cx="546.7" cy="1471.4" r="6.3" fill="#00b294"/>
<circle cx="546.7" cy="1459.9" r="6.3" fill="#00b294"/>
<circle cx="548.3" cy="1444.2" r="6.3" fill="#00b294"/>
<circle cx="554.4" cy="1437.7" r="6.3" fill="#00b294"/>
<polygon points="565.0,1435.3 643.4,1442.5 652.4,1451.3 652.4,1468.9 645.1,1477.4 565.0,1485.0 552.8,1471.4 552.8,1448.4" fill="#fff" stroke="#fff" stroke-width="3.4" stroke-linejoin="round"/>
<path d="M565.0,1435.3L552.8,1448.4 M552.8,1448.4L552.8,1471.4 M552.8,1471.4L565.0,1485.0 M565.0,1485.0L577.5,1472.3 M577.5,1472.3L577.5,1447.6 M577.5,1447.6L565.0,1435.3 M565.0,1435.3L565.0,1485.0 M552.8,1448.4L577.5,1472.3 M552.8,1471.4L577.5,1447.6 M565.0,1435.3L643.4,1442.5 M577.5,1447.6L652.4,1451.3 M577.5,1472.3L652.4,1468.9 M565.0,1485.0L645.1,1477.4 M643.4,1442.5L652.4,1451.3 M652.4,1451.3L652.4,1468.9 M652.4,1468.9L645.1,1477.4 M605.1,1448.9L605.1,1471.1 M625.5,1450.0L625.5,1470.2 M641.7,1450.8L641.7,1469.4 M596.6,1438.2L605.1,1448.9 M617.0,1440.1L625.5,1450.0 M632.3,1441.4L641.7,1450.8 M605.1,1471.1L594.9,1482.1 M625.5,1470.2L617.0,1480.1 M641.7,1469.4L632.3,1478.6 M577.5,1447.6L605.1,1471.1 M605.1,1448.9L625.5,1470.2 M625.5,1450.0L641.7,1469.4 M641.7,1450.8L652.4,1468.9 M565.0,1435.3L605.1,1448.9 M596.6,1438.2L625.5,1450.0 M617.0,1440.1L641.7,1450.8 M632.3,1441.4L652.4,1451.3 M577.5,1472.3L594.9,1482.1 M605.1,1471.1L617.0,1480.1 M625.5,1470.2L632.3,1478.6 M641.7,1469.4L645.1,1477.4" fill="none" stroke="#111" stroke-width="1.45" stroke-linecap="round" stroke-linejoin="round"/>
<text x="433.8" y="1433.7" font-size="17.5" textLength="57.7" lengthAdjust="spacingAndGlyphs">PEG-W</text>
<text x="494.6" y="1446.2" font-size="27" textLength="40.2" lengthAdjust="spacingAndGlyphs">rod</text>
<circle cx="711" cy="1445.5" r="8" fill="url(#glow)"/>
<g transform="translate(650.0 1411.0) scale(0.06849)">
<use href="#smallm" fill="#e0e0e0" stroke="#111" stroke-width="16.8" stroke-linejoin="round"/>
<use href="#smallm" fill="none" stroke="#111" stroke-width="29.2" stroke-linejoin="round" clip-path="url(#csmall)"/>
<path d="M800,1500 C790,1430 815,1410 840,1410 C880,1415 880,1480 875,1540 M1070,1525 C1085,1450 1105,1405 1135,1405 C1165,1410 1160,1460 1155,1510" fill="none" stroke="#111" stroke-width="29.2" stroke-linecap="round"/>
</g>
<circle cx="711.5" cy="1446" r="5.5" fill="url(#glow)" opacity="0.8"/>
<g transform="translate(711.5 1445.6) rotate(-12.5) scale(0.62)" stroke="#111" stroke-width="1.45">
<line x1="0" y1="0" x2="22" y2="0" stroke-width="1.61"/>
<rect x="22.5" y="-2.3" width="28" height="4.6" fill="#f3cf4f"/>
<rect x="50.5" y="-6.8" width="3.2" height="13.6" fill="#111"/>
<line x1="53" y1="0" x2="68" y2="0" stroke-width="2.74"/>
<path d="M66.5,-0.5 L70,-4.4 L70.6,4.4 L66.5,0.5 Z" fill="#111"/>
</g>
<text x="658.0" y="1518.3" font-size="25.5" textLength="32.8" lengthAdjust="spacingAndGlyphs">i.v.</text>
<text transform="translate(1052.6 1432.3) scale(1.2 1)" font-size="38" font-weight="bold" stroke="#000" stroke-width="1.7" stroke-linejoin="round">g</text>
<path d="M1186.0,1410.0 V1807.6 H1808.0" fill="none" stroke="#1a1a1a" stroke-width="1.45"/>
<line x1="1172.7" y1="1457.6" x2="1186.0" y2="1457.6" stroke="#1a1a1a" stroke-width="1.45"/>
<text x="1160.5" y="1465.1" font-size="23" text-anchor="end" textLength="23.6" lengthAdjust="spacingAndGlyphs">10</text>
<line x1="1172.7" y1="1545.7" x2="1186.0" y2="1545.7" stroke="#1a1a1a" stroke-width="1.45"/>
<text x="1160.5" y="1553.2" font-size="23" text-anchor="end">1</text>
<line x1="1172.7" y1="1632.8" x2="1186.0" y2="1632.8" stroke="#1a1a1a" stroke-width="1.45"/>
<text x="1160.5" y="1640.3" font-size="23" text-anchor="end" textLength="28.6" lengthAdjust="spacingAndGlyphs">0.1</text>
<line x1="1172.7" y1="1720.2" x2="1186.0" y2="1720.2" stroke="#1a1a1a" stroke-width="1.45"/>
<text x="1160.5" y="1727.7" font-size="23" text-anchor="end" textLength="42.9" lengthAdjust="spacingAndGlyphs">0.01</text>
<line x1="1172.7" y1="1807.6" x2="1186.0" y2="1807.6" stroke="#1a1a1a" stroke-width="1.45"/>
<text x="1160.5" y="1815.1" font-size="23" text-anchor="end" textLength="59.1" lengthAdjust="spacingAndGlyphs">0.001</text>
<line x1="1240.7" y1="1807.6" x2="1240.7" y2="1821.1" stroke="#1a1a1a" stroke-width="1.45"/>
<text x="1240.7" y="1850.9" font-size="23" text-anchor="middle">5</text>
<line x1="1314.8" y1="1807.6" x2="1314.8" y2="1821.1" stroke="#1a1a1a" stroke-width="1.45"/>
<text x="1314.8" y="1850.9" font-size="23" text-anchor="middle" textLength="23.6" lengthAdjust="spacingAndGlyphs">10</text>
<line x1="1432.1" y1="1807.6" x2="1432.1" y2="1821.1" stroke="#1a1a1a" stroke-width="1.45"/>
<text x="1432.1" y="1850.9" font-size="23" text-anchor="middle" textLength="26.8" lengthAdjust="spacingAndGlyphs">30</text>
<line x1="1506.2" y1="1807.6" x2="1506.2" y2="1821.1" stroke="#1a1a1a" stroke-width="1.45"/>
<text x="1506.2" y="1850.9" font-size="23" text-anchor="middle" textLength="28.2" lengthAdjust="spacingAndGlyphs">60</text>
<line x1="1580.2" y1="1807.6" x2="1580.2" y2="1821.1" stroke="#1a1a1a" stroke-width="1.45"/>
<text x="1580.2" y="1850.9" font-size="23" text-anchor="middle" textLength="37.0" lengthAdjust="spacingAndGlyphs">120</text>
<line x1="1654.3" y1="1807.6" x2="1654.3" y2="1821.1" stroke="#1a1a1a" stroke-width="1.45"/>
<text x="1654.3" y="1850.9" font-size="23" text-anchor="middle" textLength="41.3" lengthAdjust="spacingAndGlyphs">240</text>
<line x1="1728.3" y1="1807.6" x2="1728.3" y2="1821.1" stroke="#1a1a1a" stroke-width="1.45"/>
<text x="1728.3" y="1850.9" font-size="23" text-anchor="middle" textLength="42.0" lengthAdjust="spacingAndGlyphs">480</text>
<clipPath id="cg"><rect x="1186" y="1400" width="622" height="406.9999999999999"/></clipPath>
<text x="1497.5" y="1892.9" font-size="27.8" text-anchor="middle" textLength="316.0" lengthAdjust="spacingAndGlyphs">Time post-injection (min)</text>
<text x="1076.9" y="1610.0" font-size="28.4" text-anchor="middle" textLength="245.0" lengthAdjust="spacingAndGlyphs" transform="rotate(-90 1076.9 1610.0)">Concentration (pM)</text>
<g clip-path="url(#cg)">
<polyline points="1240.7,1601.2 1314.8,1530.8 1388.8,1521.5 1432.1,1513.8 1462.9,1497.4 1486.7,1546.0 1506.2,1530.0 1522.6,1527.0 1536.9,1520.9 1549.5,1531.3 1560.8,1584.3 1570.9,1586.0 1580.2,1688.7 1654.3,1682.1 1697.6,1703.2 1728.3,1698.6" fill="none" stroke="#000" stroke-width="2.6" stroke-linejoin="miter" stroke-linecap="butt"/>
<polyline points="1240.7,1658.5 1314.8,1611.5 1388.8,1586.9 1432.1,1591.5 1462.9,1580.0 1486.7,1642.6 1506.2,1627.5 1522.6,1624.3 1536.9,1631.3 1549.5,1640.9 1560.8,1653.9 1570.9,1679.1 1580.2,1688.7 1654.3,1696.6 1697.6,1683.4 1728.3,1686.1" fill="none" stroke="#000" stroke-width="2.25" stroke-linejoin="miter" stroke-linecap="butt" stroke-dasharray="6 0.4"/>
<polyline points="1240.7,1532.6 1314.8,1500.8 1388.8,1480.0 1432.1,1495.0 1462.9,1467.8 1486.7,1496.5 1506.2,1493.0 1522.6,1488.7 1536.9,1493.9 1549.5,1516.5 1560.8,1536.5 1570.9,1567.8 1580.2,1641.3 1654.3,1672.2 1697.6,1645.9 1728.3,1718.3" fill="none" stroke="#000" stroke-width="2.25" stroke-linejoin="miter" stroke-linecap="butt" stroke-dasharray="4.4 1.6"/>
<polyline points="1240.7,1514.2 1314.8,1497.2 1388.8,1483.8 1432.1,1513.8 1462.9,1491.3 1486.7,1500.0 1506.2,1494.0 1522.6,1490.0 1536.9,1499.1 1549.5,1518.0 1560.8,1538.0 1570.9,1569.0 1580.2,1641.3 1654.3,1675.5 1697.6,1668.3 1728.3,1698.6" fill="none" stroke="#000" stroke-width="2.25" stroke-linejoin="miter" stroke-linecap="butt" stroke-dasharray="6.5 2.8"/>
<polyline points="1240.7,1614.6 1314.8,1511.0 1388.8,1557.7 1432.1,1503.8 1462.9,1499.0 1486.7,1500.0 1506.2,1494.0 1522.6,1490.0 1536.9,1499.0 1549.5,1518.0 1560.8,1538.0 1570.9,1569.0 1580.2,1599.1 1654.3,1593.2 1697.6,1631.6 1728.3,1651.8" fill="none" stroke="#000" stroke-width="2.25" stroke-linejoin="miter" stroke-linecap="butt" stroke-dasharray="9 4.5"/>
<polyline points="1240.7,1623.8 1314.8,1543.8 1388.8,1586.9 1432.1,1520.0 1462.9,1501.0 1486.7,1549.0 1506.2,1533.0 1522.6,1535.0 1536.9,1540.0 1549.5,1560.0 1560.8,1588.0 1570.9,1626.0 1580.2,1718.3 1654.3,1736.1 1697.6,1730.2 1728.3,1788.2" fill="none" stroke="#000" stroke-width="2.25" stroke-linejoin="miter" stroke-linecap="butt" stroke-dasharray="3.3 5"/>
<polyline points="1240.7,1619.2 1314.8,1543.8 1388.8,1533.8 1432.1,1515.4 1462.9,1522.6 1486.7,1571.8 1506.2,1570.4 1522.6,1566.6 1536.9,1571.8 1549.5,1582.6 1560.8,1587.8 1570.9,1623.0 1580.2,1703.8 1654.3,1697.3 1697.6,1723.6 1728.3,1739.7" fill="none" stroke="#000" stroke-width="2.25" stroke-linejoin="miter" stroke-linecap="butt" stroke-dasharray="11 8"/>
<polyline points="1240.7,1630.0 1314.8,1543.8 1388.8,1533.8 1432.1,1515.4 1462.9,1503.0 1486.7,1552.2 1506.2,1537.4 1522.6,1544.3 1536.9,1542.6 1549.5,1544.3 1560.8,1591.3 1570.9,1619.0 1580.2,1722.3 1654.3,1731.5 1697.6,1737.4 1728.3,1788.2" fill="none" stroke="#000" stroke-width="2.25" stroke-linejoin="miter" stroke-linecap="butt" stroke-dasharray="1.3 1.3"/>
<polyline points="1240.7,1626.0 1314.8,1543.8 1388.8,1523.8 1432.1,1509.2 1462.9,1499.0 1486.7,1550.0 1506.2,1535.0 1522.6,1538.0 1536.9,1541.0 1549.5,1555.0 1560.8,1590.0 1570.9,1593.0 1580.2,1705.0 1654.3,1788.8 1697.6,1742.1 1728.3,1739.7" fill="none" stroke="#000" stroke-width="2.25" stroke-linejoin="miter" stroke-linecap="butt" stroke-dasharray="4 2.6"/>
<g fill="#2dbfa7" stroke="#0e6e60" stroke-width="0.55">
<circle cx="1240.7" cy="1601.2" r="3.6"/>
<circle cx="1314.8" cy="1530.8" r="3.6"/>
<circle cx="1388.8" cy="1521.5" r="3.6"/>
<circle cx="1432.1" cy="1513.8" r="3.6"/>
<circle cx="1462.9" cy="1497.4" r="3.6"/>
<circle cx="1486.7" cy="1546.0" r="3.6"/>
<circle cx="1506.2" cy="1530.0" r="3.6"/>
<circle cx="1522.6" cy="1527.0" r="3.6"/>
<circle cx="1536.9" cy="1520.9" r="3.6"/>
<circle cx="1549.5" cy="1531.3" r="3.6"/>
<circle cx="1560.8" cy="1584.3" r="3.6"/>
<circle cx="1570.9" cy="1586.0" r="3.6"/>
<circle cx="1580.2" cy="1688.7" r="3.6"/>
<circle cx="1654.3" cy="1682.1" r="3.6"/>
<circle cx="1697.6" cy="1703.2" r="3.6"/>
<circle cx="1728.3" cy="1698.6" r="3.6"/>
<circle cx="1240.7" cy="1658.5" r="3.6"/>
<circle cx="1314.8" cy="1611.5" r="3.6"/>
<circle cx="1388.8" cy="1586.9" r="3.6"/>
<circle cx="1432.1" cy="1591.5" r="3.6"/>
<circle cx="1462.9" cy="1580.0" r="3.6"/>
<circle cx="1486.7" cy="1642.6" r="3.6"/>
<circle cx="1506.2" cy="1627.5" r="3.6"/>
<circle cx="1522.6" cy="1624.3" r="3.6"/>
<circle cx="1536.9" cy="1631.3" r="3.6"/>
<circle cx="1549.5" cy="1640.9" r="3.6"/>
<circle cx="1560.8" cy="1653.9" r="3.6"/>
<circle cx="1570.9" cy="1679.1" r="3.6"/>
<circle cx="1580.2" cy="1688.7" r="3.6"/>
<circle cx="1654.3" cy="1696.6" r="3.6"/>
<circle cx="1697.6" cy="1683.4" r="3.6"/>
<circle cx="1728.3" cy="1686.1" r="3.6"/>
<circle cx="1240.7" cy="1532.6" r="3.6"/>
<circle cx="1314.8" cy="1500.8" r="3.6"/>
<circle cx="1388.8" cy="1480.0" r="3.6"/>
<circle cx="1432.1" cy="1495.0" r="3.6"/>
<circle cx="1462.9" cy="1467.8" r="3.6"/>
<circle cx="1486.7" cy="1496.5" r="3.6"/>
<circle cx="1506.2" cy="1493.0" r="3.6"/>
<circle cx="1522.6" cy="1488.7" r="3.6"/>
<circle cx="1536.9" cy="1493.9" r="3.6"/>
<circle cx="1549.5" cy="1516.5" r="3.6"/>
<circle cx="1560.8" cy="1536.5" r="3.6"/>
<circle cx="1570.9" cy="1567.8" r="3.6"/>
<circle cx="1580.2" cy="1641.3" r="3.6"/>
<circle cx="1654.3" cy="1672.2" r="3.6"/>
<circle cx="1697.6" cy="1645.9" r="3.6"/>
<circle cx="1728.3" cy="1718.3" r="3.6"/>
<circle cx="1240.7" cy="1514.2" r="3.6"/>
<circle cx="1314.8" cy="1497.2" r="3.6"/>
<circle cx="1388.8" cy="1483.8" r="3.6"/>
<circle cx="1432.1" cy="1513.8" r="3.6"/>
<circle cx="1462.9" cy="1491.3" r="3.6"/>
<circle cx="1486.7" cy="1500.0" r="3.6"/>
<circle cx="1506.2" cy="1494.0" r="3.6"/>
<circle cx="1522.6" cy="1490.0" r="3.6"/>
<circle cx="1536.9" cy="1499.1" r="3.6"/>
<circle cx="1549.5" cy="1518.0" r="3.6"/>
<circle cx="1560.8" cy="1538.0" r="3.6"/>
<circle cx="1570.9" cy="1569.0" r="3.6"/>
<circle cx="1580.2" cy="1641.3" r="3.6"/>
<circle cx="1654.3" cy="1675.5" r="3.6"/>
<circle cx="1697.6" cy="1668.3" r="3.6"/>
<circle cx="1728.3" cy="1698.6" r="3.6"/>
<circle cx="1240.7" cy="1614.6" r="3.6"/>
<circle cx="1314.8" cy="1511.0" r="3.6"/>
<circle cx="1388.8" cy="1557.7" r="3.6"/>
<circle cx="1432.1" cy="1503.8" r="3.6"/>
<circle cx="1462.9" cy="1499.0" r="3.6"/>
<circle cx="1486.7" cy="1500.0" r="3.6"/>
<circle cx="1506.2" cy="1494.0" r="3.6"/>
<circle cx="1522.6" cy="1490.0" r="3.6"/>
<circle cx="1536.9" cy="1499.0" r="3.6"/>
<circle cx="1549.5" cy="1518.0" r="3.6"/>
<circle cx="1560.8" cy="1538.0" r="3.6"/>
<circle cx="1570.9" cy="1569.0" r="3.6"/>
<circle cx="1580.2" cy="1599.1" r="3.6"/>
<circle cx="1654.3" cy="1593.2" r="3.6"/>
<circle cx="1697.6" cy="1631.6" r="3.6"/>
<circle cx="1728.3" cy="1651.8" r="3.6"/>
<circle cx="1240.7" cy="1623.8" r="3.6"/>
<circle cx="1314.8" cy="1543.8" r="3.6"/>
<circle cx="1388.8" cy="1586.9" r="3.6"/>
<circle cx="1432.1" cy="1520.0" r="3.6"/>
<circle cx="1462.9" cy="1501.0" r="3.6"/>
<circle cx="1486.7" cy="1549.0" r="3.6"/>
<circle cx="1506.2" cy="1533.0" r="3.6"/>
<circle cx="1522.6" cy="1535.0" r="3.6"/>
<circle cx="1536.9" cy="1540.0" r="3.6"/>
<circle cx="1549.5" cy="1560.0" r="3.6"/>
<circle cx="1560.8" cy="1588.0" r="3.6"/>
<circle cx="1570.9" cy="1626.0" r="3.6"/>
<circle cx="1580.2" cy="1718.3" r="3.6"/>
<circle cx="1654.3" cy="1736.1" r="3.6"/>
<circle cx="1697.6" cy="1730.2" r="3.6"/>
<circle cx="1728.3" cy="1788.2" r="3.6"/>
<circle cx="1240.7" cy="1619.2" r="3.6"/>
<circle cx="1314.8" cy="1543.8" r="3.6"/>
<circle cx="1388.8" cy="1533.8" r="3.6"/>
<circle cx="1432.1" cy="1515.4" r="3.6"/>
<circle cx="1462.9" cy="1522.6" r="3.6"/>
<circle cx="1486.7" cy="1571.8" r="3.6"/>
<circle cx="1506.2" cy="1570.4" r="3.6"/>
<circle cx="1522.6" cy="1566.6" r="3.6"/>
<circle cx="1536.9" cy="1571.8" r="3.6"/>
<circle cx="1549.5" cy="1582.6" r="3.6"/>
<circle cx="1560.8" cy="1587.8" r="3.6"/>
<circle cx="1570.9" cy="1623.0" r="3.6"/>
<circle cx="1580.2" cy="1703.8" r="3.6"/>
<circle cx="1654.3" cy="1697.3" r="3.6"/>
<circle cx="1697.6" cy="1723.6" r="3.6"/>
<circle cx="1728.3" cy="1739.7" r="3.6"/>
<circle cx="1240.7" cy="1630.0" r="3.6"/>
<circle cx="1314.8" cy="1543.8" r="3.6"/>
<circle cx="1388.8" cy="1533.8" r="3.6"/>
<circle cx="1432.1" cy="1515.4" r="3.6"/>
<circle cx="1462.9" cy="1503.0" r="3.6"/>
<circle cx="1486.7" cy="1552.2" r="3.6"/>
<circle cx="1506.2" cy="1537.4" r="3.6"/>
<circle cx="1522.6" cy="1544.3" r="3.6"/>
<circle cx="1536.9" cy="1542.6" r="3.6"/>
<circle cx="1549.5" cy="1544.3" r="3.6"/>
<circle cx="1560.8" cy="1591.3" r="3.6"/>
<circle cx="1570.9" cy="1619.0" r="3.6"/>
<circle cx="1580.2" cy="1722.3" r="3.6"/>
<circle cx="1654.3" cy="1731.5" r="3.6"/>
<circle cx="1697.6" cy="1737.4" r="3.6"/>
<circle cx="1728.3" cy="1788.2" r="3.6"/>
<circle cx="1240.7" cy="1626.0" r="3.6"/>
<circle cx="1314.8" cy="1543.8" r="3.6"/>
<circle cx="1388.8" cy="1523.8" r="3.6"/>
<circle cx="1432.1" cy="1509.2" r="3.6"/>
<circle cx="1462.9" cy="1499.0" r="3.6"/>
<circle cx="1486.7" cy="1550.0" r="3.6"/>
<circle cx="1506.2" cy="1535.0" r="3.6"/>
<circle cx="1522.6" cy="1538.0" r="3.6"/>
<circle cx="1536.9" cy="1541.0" r="3.6"/>
<circle cx="1549.5" cy="1555.0" r="3.6"/>
<circle cx="1560.8" cy="1590.0" r="3.6"/>
<circle cx="1570.9" cy="1593.0" r="3.6"/>
<circle cx="1580.2" cy="1705.0" r="3.6"/>
<circle cx="1654.3" cy="1788.8" r="3.6"/>
<circle cx="1697.6" cy="1742.1" r="3.6"/>
<circle cx="1728.3" cy="1739.7" r="3.6"/>
</g>
<polyline points="1240.7,1570.8 1314.8,1526.2 1388.8,1516.9 1432.1,1513.8 1462.9,1499.1 1486.7,1525.2 1506.2,1524.3 1522.6,1524.9 1536.9,1527.8 1549.5,1546.0 1560.8,1579.0 1570.9,1603.5 1580.2,1655.7 1654.3,1659.7 1697.6,1677.5 1728.3,1702.5" fill="none" stroke="#2cbfa6" stroke-width="4.8" stroke-linejoin="round" stroke-linecap="butt" opacity="0.93"/>
</g>
<text x="1228.9" y="1511.1" font-size="20.5" text-anchor="middle">4</text>
<text x="1240.3" y="1681.9" font-size="20.5" text-anchor="middle">2</text>
<text x="1412.0" y="1578.1" font-size="20.5" text-anchor="middle">6</text>
<text x="1475.4" y="1475.0" font-size="20.5" text-anchor="middle">3</text>
<text x="1739.4" y="1659.1" font-size="20.5" text-anchor="middle">5</text>
<text x="1703.6" y="1717.7" font-size="20.5" text-anchor="middle">1</text>
<text x="1737.9" y="1747.3" font-size="20.5" text-anchor="middle">7</text>
<text x="1666.0" y="1799.3" font-size="20.5" text-anchor="middle">9</text>
<text x="1738.5" y="1801.3" font-size="20.5" text-anchor="middle">8</text>
<polygon points="1610.6,1435.3 1689.0,1442.5 1698.0,1451.3 1698.0,1468.9 1690.7,1477.4 1610.6,1485.0 1598.4,1471.4 1598.4,1448.4" fill="#00b294" stroke="#00b294" stroke-width="11" stroke-linejoin="round"/>
<circle cx="1611.2" cy="1429.2" r="6.3" fill="#00b294"/>
<circle cx="1622.4" cy="1430.2" r="6.3" fill="#00b294"/>
<circle cx="1633.6" cy="1431.2" r="6.3" fill="#00b294"/>
<circle cx="1644.8" cy="1432.3" r="6.3" fill="#00b294"/>
<circle cx="1656.0" cy="1433.3" r="6.3" fill="#00b294"/>
<circle cx="1667.2" cy="1434.3" r="6.3" fill="#00b294"/>
<circle cx="1678.4" cy="1435.3" r="6.3" fill="#00b294"/>
<circle cx="1693.3" cy="1438.1" r="6.3" fill="#00b294"/>
<circle cx="1704.2" cy="1451.3" r="6.3" fill="#00b294"/>
<circle cx="1704.2" cy="1460.1" r="6.3" fill="#00b294"/>
<circle cx="1702.7" cy="1472.9" r="6.3" fill="#00b294"/>
<circle cx="1691.3" cy="1483.5" r="6.3" fill="#00b294"/>
<circle cx="1679.9" cy="1484.6" r="6.3" fill="#00b294"/>
<circle cx="1668.4" cy="1485.7" r="6.3" fill="#00b294"/>
<circle cx="1657.0" cy="1486.8" r="6.3" fill="#00b294"/>
<circle cx="1645.5" cy="1487.9" r="6.3" fill="#00b294"/>
<circle cx="1634.1" cy="1489.0" r="6.3" fill="#00b294"/>
<circle cx="1622.7" cy="1490.1" r="6.3" fill="#00b294"/>
<circle cx="1606.1" cy="1489.1" r="6.3" fill="#00b294"/>
<circle cx="1600.0" cy="1482.3" r="6.3" fill="#00b294"/>
<circle cx="1592.3" cy="1471.4" r="6.3" fill="#00b294"/>
<circle cx="1592.3" cy="1459.9" r="6.3" fill="#00b294"/>
<circle cx="1593.9" cy="1444.2" r="6.3" fill="#00b294"/>
<circle cx="1600.0" cy="1437.7" r="6.3" fill="#00b294"/>
<polygon points="1610.6,1435.3 1689.0,1442.5 1698.0,1451.3 1698.0,1468.9 1690.7,1477.4 1610.6,1485.0 1598.4,1471.4 1598.4,1448.4" fill="#fff" stroke="#fff" stroke-width="3.4" stroke-linejoin="round"/>
<path d="M1610.6,1435.3L1598.4,1448.4 M1598.4,1448.4L1598.4,1471.4 M1598.4,1471.4L1610.6,1485.0 M1610.6,1485.0L1623.1,1472.3 M1623.1,1472.3L1623.1,1447.6 M1623.1,1447.6L1610.6,1435.3 M1610.6,1435.3L1610.6,1485.0 M1598.4,1448.4L1623.1,1472.3 M1598.4,1471.4L1623.1,1447.6 M1610.6,1435.3L1689.0,1442.5 M1623.1,1447.6L1698.0,1451.3 M1623.1,1472.3L1698.0,1468.9 M1610.6,1485.0L1690.7,1477.4 M1689.0,1442.5L1698.0,1451.3 M1698.0,1451.3L1698.0,1468.9 M1698.0,1468.9L1690.7,1477.4 M1650.7,1448.9L1650.7,1471.1 M1671.1,1450.0L1671.1,1470.2 M1687.3,1450.8L1687.3,1469.4 M1642.2,1438.2L1650.7,1448.9 M1662.6,1440.1L1671.1,1450.0 M1677.9,1441.4L1687.3,1450.8 M1650.7,1471.1L1640.5,1482.1 M1671.1,1470.2L1662.6,1480.1 M1687.3,1469.4L1677.9,1478.6 M1623.1,1447.6L1650.7,1471.1 M1650.7,1448.9L1671.1,1470.2 M1671.1,1450.0L1687.3,1469.4 M1687.3,1450.8L1698.0,1468.9 M1610.6,1435.3L1650.7,1448.9 M1642.2,1438.2L1671.1,1450.0 M1662.6,1440.1L1687.3,1450.8 M1677.9,1441.4L1698.0,1451.3 M1623.1,1472.3L1640.5,1482.1 M1650.7,1471.1L1662.6,1480.1 M1671.1,1470.2L1677.9,1478.6 M1687.3,1469.4L1690.7,1477.4" fill="none" stroke="#111" stroke-width="1.45" stroke-linecap="round" stroke-linejoin="round"/>
<text x="1481.2" y="1433.7" font-size="17.5" textLength="57.1" lengthAdjust="spacingAndGlyphs">PEG-W</text>
<text x="1541.5" y="1446.2" font-size="27" textLength="40.0" lengthAdjust="spacingAndGlyphs">rod</text>
<g transform="translate(1710.7 1411.0) scale(0.06849)">
<use href="#smallm" fill="#e0e0e0" stroke="#111" stroke-width="16.8" stroke-linejoin="round"/>
</g>
<circle cx="1774.8" cy="1499.5" r="8.5" fill="url(#glow)" opacity="0.7"/>
<g transform="translate(1774.8 1499.6) rotate(202.8) scale(0.62)" stroke="#111" stroke-width="1.45">
<line x1="0" y1="0" x2="22" y2="0" stroke-width="1.61"/>
<rect x="22.5" y="-2.3" width="28" height="4.6" fill="#f3cf4f"/>
<rect x="50.5" y="-6.8" width="3.2" height="13.6" fill="#111"/>
<line x1="53" y1="0" x2="68" y2="0" stroke-width="2.74"/>
<path d="M66.5,-0.5 L70,-4.4 L70.6,4.4 L66.5,0.5 Z" fill="#111"/>
</g>
<text x="1708.5" y="1518.3" font-size="25.5" textLength="36.5" lengthAdjust="spacingAndGlyphs">i.p.</text>
<line x1="807.3" y1="1098.8" x2="879.4" y2="1098.8" stroke="#000" stroke-width="2.0"/>
<text x="892.8" y="1107.7" font-size="26" textLength="55.0" lengthAdjust="spacingAndGlyphs">LSP1</text>
<line x1="807.3" y1="1144" x2="879.4" y2="1144" stroke="#000" stroke-width="2.0" stroke-dasharray="6 0.4"/>
<text x="892.8" y="1152.9" font-size="26" textLength="59.5" lengthAdjust="spacingAndGlyphs">LSP2</text>
<line x1="807.3" y1="1188.4" x2="879.4" y2="1188.4" stroke="#000" stroke-width="2.0" stroke-dasharray="4.4 1.6"/>
<text x="892.8" y="1197.3" font-size="26" textLength="59.5" lengthAdjust="spacingAndGlyphs">LSP3</text>
<line x1="807.3" y1="1232.8" x2="879.4" y2="1232.8" stroke="#000" stroke-width="2.0" stroke-dasharray="6.5 2.8"/>
<text x="892.8" y="1241.7" font-size="26" textLength="59.5" lengthAdjust="spacingAndGlyphs">LSP4</text>
<line x1="807.3" y1="1277.5" x2="879.4" y2="1277.5" stroke="#000" stroke-width="2.0" stroke-dasharray="9 4.5"/>
<text x="892.8" y="1286.4" font-size="26" textLength="59.5" lengthAdjust="spacingAndGlyphs">LSP5</text>
<line x1="807.3" y1="1322.7" x2="879.4" y2="1322.7" stroke="#000" stroke-width="2.0" stroke-dasharray="3.3 5"/>
<text x="892.8" y="1331.6" font-size="26" textLength="59.5" lengthAdjust="spacingAndGlyphs">LSP6</text>
<line x1="807.3" y1="1366.8" x2="879.4" y2="1366.8" stroke="#000" stroke-width="2.0" stroke-dasharray="11 8"/>
<text x="892.8" y="1375.7" font-size="26" textLength="59.5" lengthAdjust="spacingAndGlyphs">LSP7</text>
<line x1="807.3" y1="1411.8" x2="879.4" y2="1411.8" stroke="#000" stroke-width="2.0" stroke-dasharray="1.3 1.3"/>
<text x="892.8" y="1420.7" font-size="26" textLength="59.5" lengthAdjust="spacingAndGlyphs">LSP8</text>
<line x1="807.3" y1="1456.8" x2="879.4" y2="1456.8" stroke="#000" stroke-width="2.0" stroke-dasharray="4 2.6"/>
<text x="892.8" y="1465.7" font-size="26" textLength="59.5" lengthAdjust="spacingAndGlyphs">LSP9</text>
<line x1="813" y1="1498" x2="872.5" y2="1498" stroke="#f0b4bb" stroke-width="4.2" stroke-linecap="round"/>
<text x="892.8" y="1505.6" font-size="26.3" textLength="66.2" lengthAdjust="spacingAndGlyphs">Mean</text>
<line x1="813" y1="1556.5" x2="872.5" y2="1556.5" stroke="#2cbfa6" stroke-width="4.2" stroke-linecap="round"/>
<text x="892.8" y="1547.5" font-size="26.3" textLength="66.2" lengthAdjust="spacingAndGlyphs">Mean</text>
<text x="892.8" y="1575.4" font-size="26" textLength="67.5" lengthAdjust="spacingAndGlyphs">(PEG)</text>
</svg>
</body></html>
